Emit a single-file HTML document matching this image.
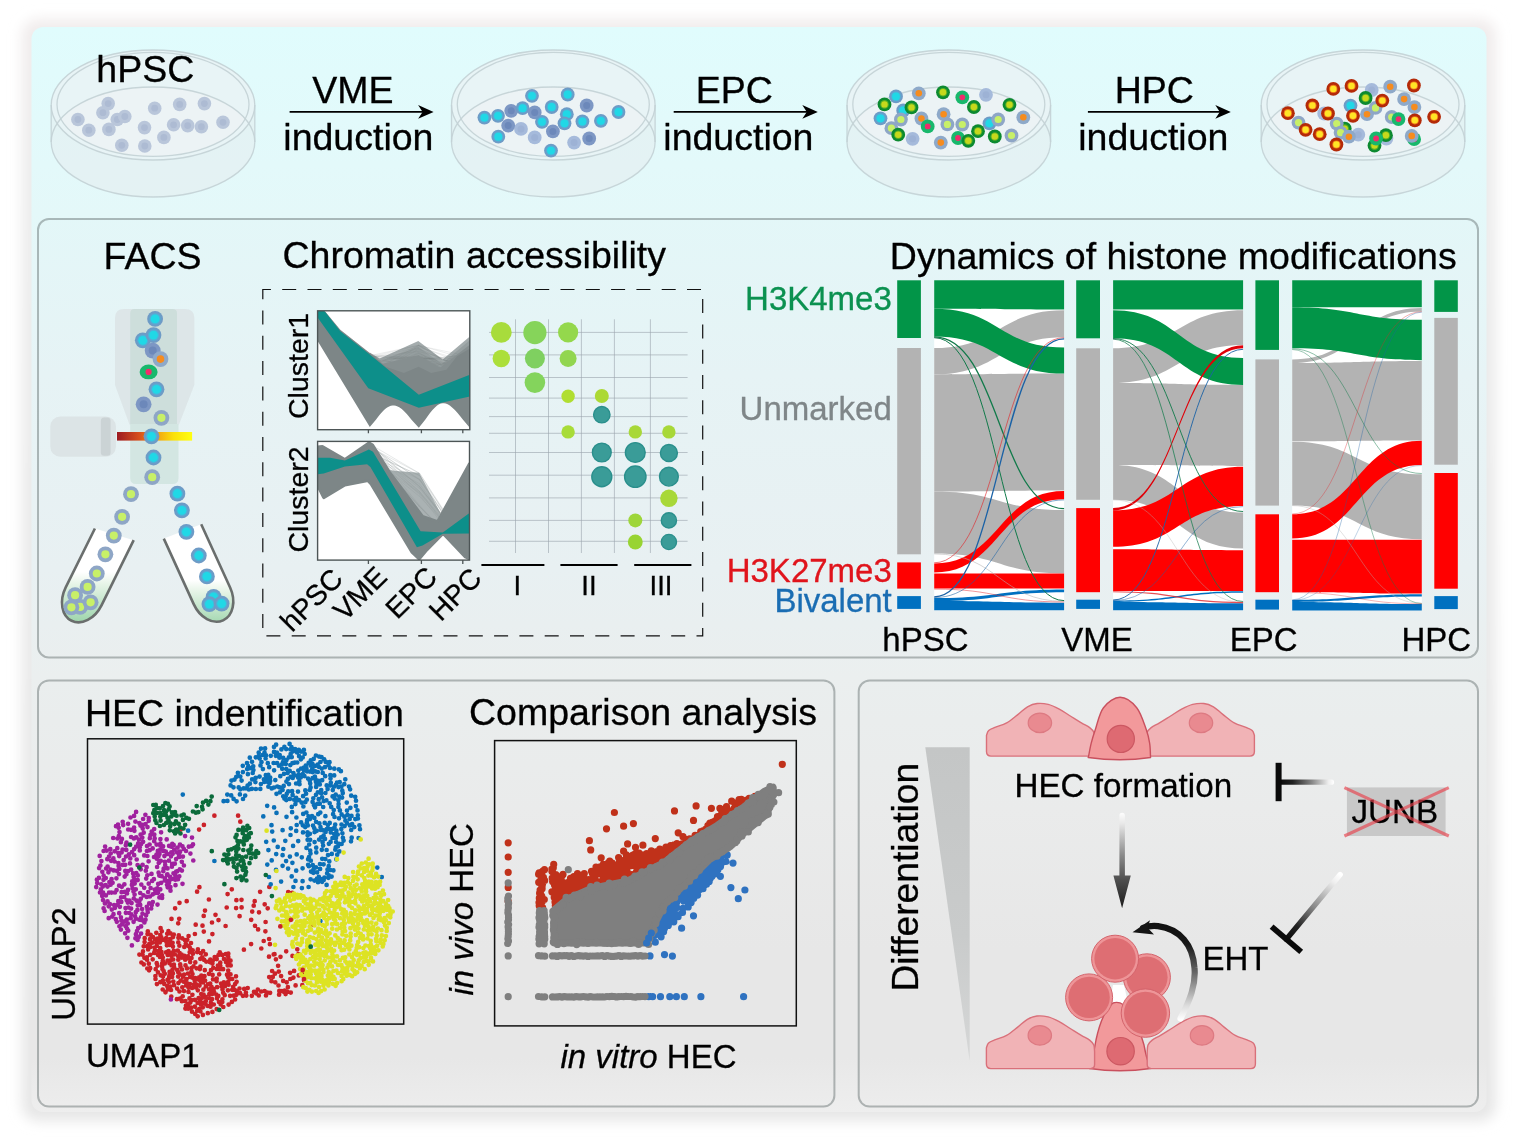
<!DOCTYPE html>
<html lang="en"><head><meta charset="utf-8"><title>Graphical abstract</title>
<style>html,body{margin:0;padding:0;background:#fff}body{width:1518px;height:1138px;overflow:hidden}svg{display:block}</style></head>
<body><svg width="1518" height="1138" viewBox="0 0 1518 1138" font-family="'Liberation Sans', sans-serif">
<defs><linearGradient id="bg" x1="0" y1="27" x2="0" y2="1112" gradientUnits="userSpaceOnUse">
<stop offset="0" stop-color="#e0fcfd"/><stop offset="0.17" stop-color="#e4f8f9"/><stop offset="0.32" stop-color="#e7f4f6"/>
<stop offset="0.5" stop-color="#e9f1f3"/><stop offset="0.6" stop-color="#ebefef"/><stop offset="0.72" stop-color="#ebecec"/><stop offset="0.85" stop-color="#e8e8e8"/><stop offset="0.95" stop-color="#e8e8e8"/><stop offset="1" stop-color="#eeeeee"/></linearGradient>
<linearGradient id="gl" x1="0" y1="10" x2="0" y2="1130" gradientUnits="userSpaceOnUse"><stop offset="0" stop-color="#f1ecec"/><stop offset="0.15" stop-color="#ececec"/><stop offset="1" stop-color="#e6e6e6"/></linearGradient>
<filter id="glow" x="-5%" y="-5%" width="110%" height="110%"><feGaussianBlur stdDeviation="6.5"/></filter>
<clipPath id="dc1"><ellipse cx="153" cy="142" rx="101.8" ry="55"/></clipPath>
<clipPath id="dc2"><ellipse cx="553.3" cy="142" rx="101.8" ry="55"/></clipPath>
<clipPath id="dc3"><ellipse cx="948.8" cy="142" rx="101.8" ry="55"/></clipPath>
<clipPath id="dc4"><ellipse cx="1363" cy="142" rx="101.8" ry="55"/></clipPath>
<linearGradient id="laser" x1="0" x2="1"><stop offset="0" stop-color="#9c1a22"/><stop offset="0.3" stop-color="#d8501c"/><stop offset="0.5" stop-color="#f09a14"/><stop offset="0.75" stop-color="#fbe00a"/><stop offset="1" stop-color="#ffff10"/></linearGradient>
<linearGradient id="lq1" x1="0" y1="572" x2="0" y2="621" gradientUnits="userSpaceOnUse"><stop offset="0" stop-color="#ffffff"/><stop offset="0.25" stop-color="#e6f4e7"/><stop offset="1" stop-color="#a0d6ae"/></linearGradient>
<linearGradient id="lq2" x1="0" y1="580" x2="0" y2="625" gradientUnits="userSpaceOnUse"><stop offset="0" stop-color="#ffffff"/><stop offset="0.25" stop-color="#e6f4e7"/><stop offset="1" stop-color="#a0d6ae"/></linearGradient>
<clipPath id="c1"><rect x="317.6" y="310.8" width="152.2" height="118.9"/></clipPath>
<clipPath id="c2"><rect x="317.6" y="441.4" width="151.9" height="118.7"/></clipPath>
<linearGradient id="tri" x1="0" y1="747" x2="0" y2="1062" gradientUnits="userSpaceOnUse"><stop offset="0" stop-color="#c4c6c6"/><stop offset="0.6" stop-color="#c9cbcb"/><stop offset="1" stop-color="#d6d7d7"/></linearGradient>
<linearGradient id="va" x1="0" y1="812" x2="0" y2="908" gradientUnits="userSpaceOnUse"><stop offset="0" stop-color="#ffffff"/><stop offset="0.12" stop-color="#e8e8e8"/><stop offset="0.45" stop-color="#8a8a8a"/><stop offset="0.7" stop-color="#505050"/><stop offset="1" stop-color="#1c1c1c"/></linearGradient>
<linearGradient id="t1" x1="1279" y1="0" x2="1334" y2="0" gradientUnits="userSpaceOnUse"><stop offset="0" stop-color="#0a0a0a"/><stop offset="0.25" stop-color="#222"/><stop offset="0.6" stop-color="#888"/><stop offset="0.9" stop-color="#eee"/><stop offset="1" stop-color="#fff"/></linearGradient>
<linearGradient id="t2" x1="1340.2" y1="874.5" x2="1286.4" y2="939.3" gradientUnits="userSpaceOnUse"><stop offset="0" stop-color="#fff"/><stop offset="0.12" stop-color="#eee"/><stop offset="0.5" stop-color="#888"/><stop offset="0.8" stop-color="#222"/><stop offset="1" stop-color="#0a0a0a"/></linearGradient>
<linearGradient id="ca" x1="0" y1="1020" x2="0" y2="925" gradientUnits="userSpaceOnUse"><stop offset="0" stop-color="#fff"/><stop offset="0.15" stop-color="#ddd"/><stop offset="0.5" stop-color="#666"/><stop offset="0.8" stop-color="#181818"/><stop offset="1" stop-color="#111"/></linearGradient></defs>
<rect width="1518" height="1138" fill="#fff"/>
<rect x="22" y="19" width="1474" height="1102" rx="16" fill="url(#gl)" filter="url(#glow)"/>
<rect x="31.5" y="27" width="1455" height="1085" rx="12" fill="url(#bg)"/>
<rect x="38" y="219" width="1440" height="438.5" rx="11" fill="#000" fill-opacity="0.004" stroke="#586464" stroke-opacity="0.43" stroke-width="2"/>
<rect x="38" y="680.4" width="796.4" height="426.2" rx="11" fill="#000" fill-opacity="0.004" stroke="#586464" stroke-opacity="0.43" stroke-width="2"/>
<rect x="858.7" y="680.6" width="619.3" height="426" rx="11" fill="#000" fill-opacity="0.004" stroke="#586464" stroke-opacity="0.43" stroke-width="2"/>
<g>
<path d="M51.2 105 A101.8 55 0 0 1 254.8 105 L254.8 142 A101.8 55 0 0 1 51.2 142 Z" fill="#e4eff1" fill-opacity="0.7"/>
<ellipse cx="153" cy="105" rx="101.8" ry="55" fill="#e8f4f6" fill-opacity="0.8"/>
<ellipse cx="153" cy="104.4" rx="96" ry="52" fill="#ecf3f5" clip-path="url(#dc1)"/>
<ellipse cx="153" cy="142" rx="101.8" ry="55" fill="none" stroke="#c3d2d5" stroke-width="1.3" stroke-opacity="0.9"/>
<ellipse cx="153" cy="105" rx="101.8" ry="55" fill="none" stroke="#c3d2d5" stroke-width="1.3" stroke-opacity="0.9"/>
<ellipse cx="153" cy="104.4" rx="96" ry="52" fill="none" stroke="#c3d2d5" stroke-width="1.3" stroke-opacity="0.9"/>
<path d="M51.2 105V142 M254.8 105V142" fill="none" stroke="#c3d2d5" stroke-width="1.3" stroke-opacity="0.9"/>
</g>
<g>
<path d="M451.5 105 A101.8 55 0 0 1 655.1 105 L655.1 142 A101.8 55 0 0 1 451.5 142 Z" fill="#e4eff1" fill-opacity="0.7"/>
<ellipse cx="553.3" cy="105" rx="101.8" ry="55" fill="#e8f4f6" fill-opacity="0.8"/>
<ellipse cx="553.3" cy="104.4" rx="96" ry="52" fill="#ecf3f5" clip-path="url(#dc2)"/>
<ellipse cx="553.3" cy="142" rx="101.8" ry="55" fill="none" stroke="#c3d2d5" stroke-width="1.3" stroke-opacity="0.9"/>
<ellipse cx="553.3" cy="105" rx="101.8" ry="55" fill="none" stroke="#c3d2d5" stroke-width="1.3" stroke-opacity="0.9"/>
<ellipse cx="553.3" cy="104.4" rx="96" ry="52" fill="none" stroke="#c3d2d5" stroke-width="1.3" stroke-opacity="0.9"/>
<path d="M451.5 105V142 M655.1 105V142" fill="none" stroke="#c3d2d5" stroke-width="1.3" stroke-opacity="0.9"/>
</g>
<g>
<path d="M847 105 A101.8 55 0 0 1 1050.6 105 L1050.6 142 A101.8 55 0 0 1 847 142 Z" fill="#e4eff1" fill-opacity="0.7"/>
<ellipse cx="948.8" cy="105" rx="101.8" ry="55" fill="#e8f4f6" fill-opacity="0.8"/>
<ellipse cx="948.8" cy="104.4" rx="96" ry="52" fill="#ecf3f5" clip-path="url(#dc3)"/>
<ellipse cx="948.8" cy="142" rx="101.8" ry="55" fill="none" stroke="#c3d2d5" stroke-width="1.3" stroke-opacity="0.9"/>
<ellipse cx="948.8" cy="105" rx="101.8" ry="55" fill="none" stroke="#c3d2d5" stroke-width="1.3" stroke-opacity="0.9"/>
<ellipse cx="948.8" cy="104.4" rx="96" ry="52" fill="none" stroke="#c3d2d5" stroke-width="1.3" stroke-opacity="0.9"/>
<path d="M847 105V142 M1050.6 105V142" fill="none" stroke="#c3d2d5" stroke-width="1.3" stroke-opacity="0.9"/>
</g>
<g>
<path d="M1261.2 105 A101.8 55 0 0 1 1464.8 105 L1464.8 142 A101.8 55 0 0 1 1261.2 142 Z" fill="#e4eff1" fill-opacity="0.7"/>
<ellipse cx="1363" cy="105" rx="101.8" ry="55" fill="#e8f4f6" fill-opacity="0.8"/>
<ellipse cx="1363" cy="104.4" rx="96" ry="52" fill="#ecf3f5" clip-path="url(#dc4)"/>
<ellipse cx="1363" cy="142" rx="101.8" ry="55" fill="none" stroke="#c3d2d5" stroke-width="1.3" stroke-opacity="0.9"/>
<ellipse cx="1363" cy="105" rx="101.8" ry="55" fill="none" stroke="#c3d2d5" stroke-width="1.3" stroke-opacity="0.9"/>
<ellipse cx="1363" cy="104.4" rx="96" ry="52" fill="none" stroke="#c3d2d5" stroke-width="1.3" stroke-opacity="0.9"/>
<path d="M1261.2 105V142 M1464.8 105V142" fill="none" stroke="#c3d2d5" stroke-width="1.3" stroke-opacity="0.9"/>
</g>
<circle cx="77.9" cy="119.5" r="6.8" fill="#b9c6da"/>
<circle cx="77.9" cy="119.5" r="3.4" fill="#adbbd3"/>
<circle cx="88.8" cy="130.2" r="6.8" fill="#b9c6da"/>
<circle cx="88.8" cy="130.2" r="3.4" fill="#adbbd3"/>
<circle cx="108.2" cy="103.6" r="6.8" fill="#b9c6da"/>
<circle cx="108.2" cy="103.6" r="3.4" fill="#adbbd3"/>
<circle cx="102.9" cy="112.7" r="6.8" fill="#b9c6da"/>
<circle cx="102.9" cy="112.7" r="3.4" fill="#adbbd3"/>
<circle cx="108.9" cy="129.4" r="6.8" fill="#b9c6da"/>
<circle cx="108.9" cy="129.4" r="3.4" fill="#adbbd3"/>
<circle cx="117.3" cy="119.5" r="6.8" fill="#b9c6da"/>
<circle cx="117.3" cy="119.5" r="3.4" fill="#adbbd3"/>
<circle cx="124.8" cy="116.5" r="6.8" fill="#b9c6da"/>
<circle cx="124.8" cy="116.5" r="3.4" fill="#adbbd3"/>
<circle cx="121.8" cy="145.3" r="6.8" fill="#b9c6da"/>
<circle cx="121.8" cy="145.3" r="3.4" fill="#adbbd3"/>
<circle cx="144.5" cy="127.6" r="6.8" fill="#b9c6da"/>
<circle cx="144.5" cy="127.6" r="3.4" fill="#adbbd3"/>
<circle cx="144.8" cy="146" r="6.8" fill="#b9c6da"/>
<circle cx="144.8" cy="146" r="3.4" fill="#adbbd3"/>
<circle cx="154.7" cy="108.2" r="6.8" fill="#b9c6da"/>
<circle cx="154.7" cy="108.2" r="3.4" fill="#adbbd3"/>
<circle cx="163.9" cy="137.4" r="6.8" fill="#b9c6da"/>
<circle cx="163.9" cy="137.4" r="3.4" fill="#adbbd3"/>
<circle cx="173.6" cy="124.8" r="6.8" fill="#b9c6da"/>
<circle cx="173.6" cy="124.8" r="3.4" fill="#adbbd3"/>
<circle cx="179.7" cy="104.4" r="6.8" fill="#b9c6da"/>
<circle cx="179.7" cy="104.4" r="3.4" fill="#adbbd3"/>
<circle cx="187.7" cy="125.6" r="6.8" fill="#b9c6da"/>
<circle cx="187.7" cy="125.6" r="3.4" fill="#adbbd3"/>
<circle cx="201.4" cy="126.7" r="6.8" fill="#b9c6da"/>
<circle cx="201.4" cy="126.7" r="3.4" fill="#adbbd3"/>
<circle cx="204.4" cy="103.6" r="6.8" fill="#b9c6da"/>
<circle cx="204.4" cy="103.6" r="3.4" fill="#adbbd3"/>
<circle cx="223" cy="122.3" r="6.8" fill="#b9c6da"/>
<circle cx="223" cy="122.3" r="3.4" fill="#adbbd3"/>
<circle cx="521" cy="128.9" r="6.9" fill="#a5badb"/>
<circle cx="521" cy="128.9" r="3.5" fill="#9db2d5"/>
<circle cx="534.7" cy="137.4" r="6.9" fill="#a5badb"/>
<circle cx="534.7" cy="137.4" r="3.5" fill="#9db2d5"/>
<circle cx="574.1" cy="142.6" r="6.9" fill="#a5badb"/>
<circle cx="574.1" cy="142.6" r="3.5" fill="#9db2d5"/>
<circle cx="511.2" cy="110.8" r="6.9" fill="#7d97c4"/>
<circle cx="511.2" cy="110.8" r="3.5" fill="#6c88ba"/>
<circle cx="508.2" cy="125.6" r="6.9" fill="#7d97c4"/>
<circle cx="508.2" cy="125.6" r="3.5" fill="#6c88ba"/>
<circle cx="552.9" cy="131.4" r="6.9" fill="#7d97c4"/>
<circle cx="552.9" cy="131.4" r="3.5" fill="#6c88ba"/>
<circle cx="586.7" cy="105.5" r="6.9" fill="#7d97c4"/>
<circle cx="586.7" cy="105.5" r="3.5" fill="#6c88ba"/>
<circle cx="589.2" cy="138.5" r="6.9" fill="#7d97c4"/>
<circle cx="589.2" cy="138.5" r="3.5" fill="#6c88ba"/>
<circle cx="484.4" cy="117.6" r="6.9" fill="#6e9bc6"/>
<circle cx="484.4" cy="117.6" r="5" fill="#54aed6"/>
<circle cx="484.4" cy="117.6" r="3.9" fill="#20d8e6"/>
<circle cx="498" cy="115.8" r="6.9" fill="#6e9bc6"/>
<circle cx="498" cy="115.8" r="5" fill="#54aed6"/>
<circle cx="498" cy="115.8" r="3.9" fill="#20d8e6"/>
<circle cx="522.6" cy="108.2" r="6.9" fill="#6e9bc6"/>
<circle cx="522.6" cy="108.2" r="5" fill="#54aed6"/>
<circle cx="522.6" cy="108.2" r="3.9" fill="#20d8e6"/>
<circle cx="534.7" cy="112.4" r="6.9" fill="#7d97c4"/>
<circle cx="534.7" cy="112.4" r="3.5" fill="#6c88ba"/>
<circle cx="532" cy="95.8" r="6.9" fill="#6e9bc6"/>
<circle cx="532" cy="95.8" r="5" fill="#54aed6"/>
<circle cx="532" cy="95.8" r="3.9" fill="#20d8e6"/>
<circle cx="551.7" cy="107" r="6.9" fill="#6e9bc6"/>
<circle cx="551.7" cy="107" r="5" fill="#54aed6"/>
<circle cx="551.7" cy="107" r="3.9" fill="#20d8e6"/>
<circle cx="567.7" cy="94.5" r="6.9" fill="#6e9bc6"/>
<circle cx="567.7" cy="94.5" r="5" fill="#54aed6"/>
<circle cx="567.7" cy="94.5" r="3.9" fill="#20d8e6"/>
<circle cx="566.8" cy="114.2" r="6.9" fill="#6e9bc6"/>
<circle cx="566.8" cy="114.2" r="5" fill="#54aed6"/>
<circle cx="566.8" cy="114.2" r="3.9" fill="#20d8e6"/>
<circle cx="542" cy="121.8" r="6.9" fill="#6e9bc6"/>
<circle cx="542" cy="121.8" r="5" fill="#54aed6"/>
<circle cx="542" cy="121.8" r="3.9" fill="#20d8e6"/>
<circle cx="564.5" cy="123.3" r="6.9" fill="#6e9bc6"/>
<circle cx="564.5" cy="123.3" r="5" fill="#54aed6"/>
<circle cx="564.5" cy="123.3" r="3.9" fill="#20d8e6"/>
<circle cx="582.4" cy="121.5" r="6.9" fill="#6e9bc6"/>
<circle cx="582.4" cy="121.5" r="5" fill="#54aed6"/>
<circle cx="582.4" cy="121.5" r="3.9" fill="#20d8e6"/>
<circle cx="600.9" cy="120.8" r="6.9" fill="#6e9bc6"/>
<circle cx="600.9" cy="120.8" r="5" fill="#54aed6"/>
<circle cx="600.9" cy="120.8" r="3.9" fill="#20d8e6"/>
<circle cx="618.5" cy="112" r="6.9" fill="#6e9bc6"/>
<circle cx="618.5" cy="112" r="5" fill="#54aed6"/>
<circle cx="618.5" cy="112" r="3.9" fill="#20d8e6"/>
<circle cx="498.3" cy="136.7" r="6.9" fill="#6e9bc6"/>
<circle cx="498.3" cy="136.7" r="5" fill="#54aed6"/>
<circle cx="498.3" cy="136.7" r="3.9" fill="#20d8e6"/>
<circle cx="551" cy="150.6" r="6.9" fill="#6e9bc6"/>
<circle cx="551" cy="150.6" r="5" fill="#54aed6"/>
<circle cx="551" cy="150.6" r="3.9" fill="#20d8e6"/>
<circle cx="986" cy="94.8" r="6.9" fill="#a5badb"/>
<circle cx="986" cy="94.8" r="3.5" fill="#9db2d5"/>
<circle cx="912.6" cy="138.8" r="6.9" fill="#a5badb"/>
<circle cx="912.6" cy="138.8" r="3.5" fill="#9db2d5"/>
<circle cx="896" cy="96.4" r="6.9" fill="#6e9bc6"/>
<circle cx="896" cy="96.4" r="5" fill="#54aed6"/>
<circle cx="896" cy="96.4" r="3.9" fill="#20d8e6"/>
<circle cx="880.5" cy="118.3" r="6.9" fill="#6e9bc6"/>
<circle cx="880.5" cy="118.3" r="5" fill="#54aed6"/>
<circle cx="880.5" cy="118.3" r="3.9" fill="#20d8e6"/>
<circle cx="903.2" cy="110.5" r="6.9" fill="#6e9bc6"/>
<circle cx="903.2" cy="110.5" r="5" fill="#54aed6"/>
<circle cx="903.2" cy="110.5" r="3.9" fill="#20d8e6"/>
<circle cx="989.5" cy="123.3" r="6.9" fill="#6e9bc6"/>
<circle cx="989.5" cy="123.3" r="5" fill="#54aed6"/>
<circle cx="989.5" cy="123.3" r="3.9" fill="#20d8e6"/>
<circle cx="918.8" cy="93.3" r="6.9" fill="#8ea9c9"/>
<circle cx="918.8" cy="93.3" r="3.3" fill="#f68c1e"/>
<circle cx="921.4" cy="118.5" r="6.9" fill="#8ea9c9"/>
<circle cx="921.4" cy="118.5" r="3.3" fill="#f68c1e"/>
<circle cx="943.6" cy="114.2" r="6.9" fill="#8ea9c9"/>
<circle cx="943.6" cy="114.2" r="3.3" fill="#f68c1e"/>
<circle cx="940.8" cy="142.6" r="6.9" fill="#8ea9c9"/>
<circle cx="940.8" cy="142.6" r="3.3" fill="#f68c1e"/>
<circle cx="1023.3" cy="117.3" r="6.9" fill="#8ea9c9"/>
<circle cx="1023.3" cy="117.3" r="3.3" fill="#f68c1e"/>
<circle cx="900.9" cy="119.5" r="6.9" fill="#8ea6c6"/>
<circle cx="900.9" cy="119.5" r="3.6" fill="#c8f068"/>
<circle cx="891.4" cy="128.2" r="6.9" fill="#8ea6c6"/>
<circle cx="891.4" cy="128.2" r="3.6" fill="#c8f068"/>
<circle cx="947.4" cy="124.4" r="6.9" fill="#8ea6c6"/>
<circle cx="947.4" cy="124.4" r="3.6" fill="#c8f068"/>
<circle cx="962.3" cy="124.5" r="6.9" fill="#8ea6c6"/>
<circle cx="962.3" cy="124.5" r="3.6" fill="#c8f068"/>
<circle cx="998.2" cy="119.5" r="6.9" fill="#8ea6c6"/>
<circle cx="998.2" cy="119.5" r="3.6" fill="#c8f068"/>
<circle cx="1011.5" cy="135.5" r="6.9" fill="#8ea6c6"/>
<circle cx="1011.5" cy="135.5" r="3.6" fill="#c8f068"/>
<circle cx="962.3" cy="97.3" r="6.9" fill="#18b86c"/>
<circle cx="962.3" cy="97.3" r="2.9" fill="#f02c6c"/>
<circle cx="927.7" cy="126.4" r="6.9" fill="#18b86c"/>
<circle cx="927.7" cy="126.4" r="2.9" fill="#f02c6c"/>
<circle cx="958" cy="138" r="6.9" fill="#18b86c"/>
<circle cx="958" cy="138" r="2.9" fill="#f02c6c"/>
<circle cx="884.5" cy="104.4" r="6.9" fill="#0c8a30"/>
<circle cx="884.5" cy="104.4" r="4.3" fill="#58b024"/>
<circle cx="884.5" cy="104.4" r="3.2" fill="#c6d81c"/>
<circle cx="911.5" cy="107.4" r="6.9" fill="#0c8a30"/>
<circle cx="911.5" cy="107.4" r="4.3" fill="#58b024"/>
<circle cx="911.5" cy="107.4" r="3.2" fill="#c6d81c"/>
<circle cx="943" cy="92.3" r="6.9" fill="#0c8a30"/>
<circle cx="943" cy="92.3" r="4.3" fill="#58b024"/>
<circle cx="943" cy="92.3" r="3.2" fill="#c6d81c"/>
<circle cx="973.9" cy="107" r="6.9" fill="#0c8a30"/>
<circle cx="973.9" cy="107" r="4.3" fill="#58b024"/>
<circle cx="973.9" cy="107" r="3.2" fill="#c6d81c"/>
<circle cx="1009.5" cy="104.8" r="6.9" fill="#0c8a30"/>
<circle cx="1009.5" cy="104.8" r="4.3" fill="#58b024"/>
<circle cx="1009.5" cy="104.8" r="3.2" fill="#c6d81c"/>
<circle cx="898.2" cy="134.7" r="6.9" fill="#0c8a30"/>
<circle cx="898.2" cy="134.7" r="4.3" fill="#58b024"/>
<circle cx="898.2" cy="134.7" r="3.2" fill="#c6d81c"/>
<circle cx="978" cy="131.2" r="6.9" fill="#0c8a30"/>
<circle cx="978" cy="131.2" r="4.3" fill="#58b024"/>
<circle cx="978" cy="131.2" r="3.2" fill="#c6d81c"/>
<circle cx="968.3" cy="140.8" r="6.9" fill="#0c8a30"/>
<circle cx="968.3" cy="140.8" r="4.3" fill="#58b024"/>
<circle cx="968.3" cy="140.8" r="3.2" fill="#c6d81c"/>
<circle cx="994.8" cy="136.5" r="6.9" fill="#0c8a30"/>
<circle cx="994.8" cy="136.5" r="4.3" fill="#58b024"/>
<circle cx="994.8" cy="136.5" r="3.2" fill="#c6d81c"/>
<circle cx="1371.7" cy="90" r="6.9" fill="#a5badb"/>
<circle cx="1371.7" cy="90" r="3.5" fill="#9db2d5"/>
<circle cx="1358.3" cy="134.7" r="6.9" fill="#a5badb"/>
<circle cx="1358.3" cy="134.7" r="3.5" fill="#9db2d5"/>
<circle cx="1324.2" cy="113.5" r="6.9" fill="#a5badb"/>
<circle cx="1324.2" cy="113.5" r="3.5" fill="#9db2d5"/>
<circle cx="1386.4" cy="138.5" r="6.9" fill="#a5badb"/>
<circle cx="1386.4" cy="138.5" r="3.5" fill="#9db2d5"/>
<circle cx="1350.5" cy="105.6" r="6.9" fill="#6e9bc6"/>
<circle cx="1350.5" cy="105.6" r="5" fill="#54aed6"/>
<circle cx="1350.5" cy="105.6" r="3.9" fill="#20d8e6"/>
<circle cx="1414.1" cy="139.2" r="6.9" fill="#18b86c"/>
<circle cx="1414.1" cy="139.2" r="2.9" fill="#f02c6c"/>
<circle cx="1344.7" cy="128.6" r="6.9" fill="#0c8a30"/>
<circle cx="1344.7" cy="128.6" r="4.3" fill="#58b024"/>
<circle cx="1344.7" cy="128.6" r="3.2" fill="#c6d81c"/>
<circle cx="1390.2" cy="86.7" r="6.9" fill="#8ea9c9"/>
<circle cx="1390.2" cy="86.7" r="3.3" fill="#f68c1e"/>
<circle cx="1404.1" cy="99.1" r="6.9" fill="#8ea9c9"/>
<circle cx="1404.1" cy="99.1" r="3.3" fill="#f68c1e"/>
<circle cx="1414.4" cy="107.1" r="6.9" fill="#8ea9c9"/>
<circle cx="1414.4" cy="107.1" r="3.3" fill="#f68c1e"/>
<circle cx="1367" cy="114.2" r="6.9" fill="#8ea9c9"/>
<circle cx="1367" cy="114.2" r="3.3" fill="#f68c1e"/>
<circle cx="1411.7" cy="135.9" r="6.9" fill="#8ea9c9"/>
<circle cx="1411.7" cy="135.9" r="3.3" fill="#f68c1e"/>
<circle cx="1298.5" cy="122.6" r="6.9" fill="#8ea6c6"/>
<circle cx="1298.5" cy="122.6" r="3.6" fill="#c8f068"/>
<circle cx="1336.7" cy="123.6" r="6.9" fill="#8ea6c6"/>
<circle cx="1336.7" cy="123.6" r="3.6" fill="#c8f068"/>
<circle cx="1340.6" cy="132.7" r="6.9" fill="#8ea6c6"/>
<circle cx="1340.6" cy="132.7" r="3.6" fill="#c8f068"/>
<circle cx="1348.9" cy="136.7" r="6.9" fill="#8ea9c9"/>
<circle cx="1348.9" cy="136.7" r="3.3" fill="#f68c1e"/>
<circle cx="1375.5" cy="107.9" r="6.9" fill="#8ea6c6"/>
<circle cx="1375.5" cy="107.9" r="3.6" fill="#c8f068"/>
<circle cx="1391.7" cy="117" r="6.9" fill="#8ea6c6"/>
<circle cx="1391.7" cy="117" r="3.6" fill="#c8f068"/>
<circle cx="1365.6" cy="98" r="6.9" fill="#0c8a30"/>
<circle cx="1365.6" cy="98" r="4.3" fill="#58b024"/>
<circle cx="1365.6" cy="98" r="3.2" fill="#c6d81c"/>
<circle cx="1374.5" cy="145.6" r="6.9" fill="#0c8a30"/>
<circle cx="1374.5" cy="145.6" r="4.3" fill="#58b024"/>
<circle cx="1374.5" cy="145.6" r="3.2" fill="#c6d81c"/>
<circle cx="1385.9" cy="135.2" r="6.9" fill="#0c8a30"/>
<circle cx="1385.9" cy="135.2" r="4.3" fill="#58b024"/>
<circle cx="1385.9" cy="135.2" r="3.2" fill="#c6d81c"/>
<circle cx="1398.5" cy="119.1" r="6.9" fill="#18b86c"/>
<circle cx="1398.5" cy="119.1" r="2.9" fill="#f02c6c"/>
<circle cx="1376.1" cy="138.5" r="6.9" fill="#18b86c"/>
<circle cx="1376.1" cy="138.5" r="2.9" fill="#f02c6c"/>
<circle cx="1287.9" cy="113.2" r="6.9" fill="#b42a08"/>
<circle cx="1287.9" cy="113.2" r="4.1" fill="#ef7a18"/>
<circle cx="1287.9" cy="113.2" r="3.2" fill="#ffe526"/>
<circle cx="1312.4" cy="105.5" r="6.9" fill="#b42a08"/>
<circle cx="1312.4" cy="105.5" r="4.1" fill="#ef7a18"/>
<circle cx="1312.4" cy="105.5" r="3.2" fill="#ffe526"/>
<circle cx="1333.3" cy="88.9" r="6.9" fill="#b42a08"/>
<circle cx="1333.3" cy="88.9" r="4.1" fill="#ef7a18"/>
<circle cx="1333.3" cy="88.9" r="3.2" fill="#ffe526"/>
<circle cx="1351.5" cy="85.9" r="6.9" fill="#b42a08"/>
<circle cx="1351.5" cy="85.9" r="4.1" fill="#ef7a18"/>
<circle cx="1351.5" cy="85.9" r="3.2" fill="#ffe526"/>
<circle cx="1328" cy="113.5" r="6.9" fill="#b42a08"/>
<circle cx="1328" cy="113.5" r="4.1" fill="#ef7a18"/>
<circle cx="1328" cy="113.5" r="3.2" fill="#ffe526"/>
<circle cx="1353" cy="115.8" r="6.9" fill="#b42a08"/>
<circle cx="1353" cy="115.8" r="4.1" fill="#ef7a18"/>
<circle cx="1353" cy="115.8" r="3.2" fill="#ffe526"/>
<circle cx="1382.3" cy="100.6" r="6.9" fill="#b42a08"/>
<circle cx="1382.3" cy="100.6" r="4.1" fill="#ef7a18"/>
<circle cx="1382.3" cy="100.6" r="3.2" fill="#ffe526"/>
<circle cx="1413.9" cy="85.5" r="6.9" fill="#b42a08"/>
<circle cx="1413.9" cy="85.5" r="4.1" fill="#ef7a18"/>
<circle cx="1413.9" cy="85.5" r="3.2" fill="#ffe526"/>
<circle cx="1414.8" cy="120.3" r="6.9" fill="#b42a08"/>
<circle cx="1414.8" cy="120.3" r="4.1" fill="#ef7a18"/>
<circle cx="1414.8" cy="120.3" r="3.2" fill="#ffe526"/>
<circle cx="1434.1" cy="116.8" r="6.9" fill="#b42a08"/>
<circle cx="1434.1" cy="116.8" r="4.1" fill="#ef7a18"/>
<circle cx="1434.1" cy="116.8" r="3.2" fill="#ffe526"/>
<circle cx="1305.6" cy="129.8" r="6.9" fill="#b42a08"/>
<circle cx="1305.6" cy="129.8" r="4.1" fill="#ef7a18"/>
<circle cx="1305.6" cy="129.8" r="3.2" fill="#ffe526"/>
<circle cx="1319.7" cy="134.2" r="6.9" fill="#b42a08"/>
<circle cx="1319.7" cy="134.2" r="4.1" fill="#ef7a18"/>
<circle cx="1319.7" cy="134.2" r="3.2" fill="#ffe526"/>
<circle cx="1336.4" cy="144.5" r="6.9" fill="#b42a08"/>
<circle cx="1336.4" cy="144.5" r="4.1" fill="#ef7a18"/>
<circle cx="1336.4" cy="144.5" r="3.2" fill="#ffe526"/>
<text x="96.3" y="82.4" font-size="37.5" fill="#000" stroke="#000" stroke-width="0.3" text-anchor="start" >hPSC</text>
<path d="M289.6 111.9H425.6" stroke="#000" stroke-width="1.8"/>
<path d="M433.6 111.9l-15.5 -6.8l4.5 6.8l-4.5 6.8z" fill="#000"/>
<path d="M673.7 111.9H809.8" stroke="#000" stroke-width="1.8"/>
<path d="M817.8 111.9l-15.5 -6.8l4.5 6.8l-4.5 6.8z" fill="#000"/>
<path d="M1087.9 111.9H1222.8" stroke="#000" stroke-width="1.8"/>
<path d="M1230.8 111.9l-15.5 -6.8l4.5 6.8l-4.5 6.8z" fill="#000"/>
<text x="353" y="103.4" font-size="37.5" fill="#000" stroke="#000" stroke-width="0.3" text-anchor="middle" >VME</text>
<text x="358.4" y="149.6" font-size="37.5" fill="#000" stroke="#000" stroke-width="0.3" text-anchor="middle" >induction</text>
<text x="734.2" y="103.4" font-size="37.5" fill="#000" stroke="#000" stroke-width="0.3" text-anchor="middle" >EPC</text>
<text x="738.4" y="149.6" font-size="37.5" fill="#000" stroke="#000" stroke-width="0.3" text-anchor="middle" >induction</text>
<text x="1154.3" y="103.4" font-size="37.5" fill="#000" stroke="#000" stroke-width="0.3" text-anchor="middle" >HPC</text>
<text x="1153.3" y="149.6" font-size="37.5" fill="#000" stroke="#000" stroke-width="0.3" text-anchor="middle" >induction</text>
<text x="103.6" y="268.5" font-size="37.5" fill="#000" stroke="#000" stroke-width="0.3" text-anchor="start" >FACS</text>
<path d="M115 318 Q115 309 124 309 H185 Q194.3 309 194.3 318 V385 L179 424.5 H129.5 L115 385 Z" fill="#dbe4e7" fill-opacity="0.9"/>
<path d="M130.2 313 Q130.2 309 135 309 H172 Q177 309 177 313 V424.5 H130.2 Z" fill="#cddedb"/>
<path d="M130.2 424 H178.5 V478 Q178.5 484 172.5 484 H136.2 Q130.2 484 130.2 478 Z" fill="#d3e6e2"/>
<rect x="50.3" y="416.5" width="65.6" height="40.3" rx="10" fill="#dce4e6"/>
<rect x="100.8" y="417.5" width="9.8" height="38.3" rx="3.5" fill="#cbd3d5"/>
<rect x="117" y="432" width="75.1" height="8.6" fill="url(#laser)"/>
<path d="M94.9 528.5L65.6 587.7A20 27 26.3 0 0 101.5 605.4L133.7 540.2Z" fill="url(#lq1)"/>
<path d="M94.9 528.5L65.6 587.7A20 27 26.3 0 0 101.5 605.4L133.7 540.2" fill="none" stroke="#6a6e6d" stroke-width="2.6"/>
<path d="M163.8 538.6L193.7 604.1A20 27 -24.5 0 0 230.1 587.5L201.2 524.3Z" fill="url(#lq2)"/>
<path d="M163.8 538.6L193.7 604.1A20 27 -24.5 0 0 230.1 587.5L201.2 524.3" fill="none" stroke="#6a6e6d" stroke-width="2.6"/>
<circle cx="155.1" cy="318.9" r="7.9" fill="#6e9bc6"/>
<circle cx="155.1" cy="318.9" r="5.7" fill="#54aed6"/>
<circle cx="155.1" cy="318.9" r="4.4" fill="#20d8e6"/>
<circle cx="142.8" cy="340.3" r="7.9" fill="#6e9bc6"/>
<circle cx="142.8" cy="340.3" r="5.7" fill="#54aed6"/>
<circle cx="142.8" cy="340.3" r="4.4" fill="#20d8e6"/>
<circle cx="153.5" cy="335.1" r="7.9" fill="#6e9bc6"/>
<circle cx="153.5" cy="335.1" r="5.7" fill="#54aed6"/>
<circle cx="153.5" cy="335.1" r="4.4" fill="#20d8e6"/>
<circle cx="152.7" cy="350.6" r="7.9" fill="#7d97c4"/>
<circle cx="152.7" cy="350.6" r="4" fill="#6c88ba"/>
<circle cx="160.5" cy="359.1" r="7.9" fill="#8ea9c9"/>
<circle cx="160.5" cy="359.1" r="3.8" fill="#f68c1e"/>
<circle cx="156.5" cy="389.3" r="7.9" fill="#6e9bc6"/>
<circle cx="156.5" cy="389.3" r="5.7" fill="#54aed6"/>
<circle cx="156.5" cy="389.3" r="4.4" fill="#20d8e6"/>
<circle cx="143.6" cy="404.3" r="7.9" fill="#7d97c4"/>
<circle cx="143.6" cy="404.3" r="4" fill="#6c88ba"/>
<circle cx="161.4" cy="417.8" r="7.9" fill="#8ea6c6"/>
<circle cx="161.4" cy="417.8" r="4.1" fill="#c8f068"/>
<circle cx="151.5" cy="436.3" r="7.9" fill="#6e9bc6"/>
<circle cx="151.5" cy="436.3" r="5.7" fill="#54aed6"/>
<circle cx="151.5" cy="436.3" r="4.4" fill="#20d8e6"/>
<circle cx="153.5" cy="457.5" r="7.9" fill="#6e9bc6"/>
<circle cx="153.5" cy="457.5" r="5.7" fill="#54aed6"/>
<circle cx="153.5" cy="457.5" r="4.4" fill="#20d8e6"/>
<circle cx="152.2" cy="477.2" r="7.9" fill="#8ea6c6"/>
<circle cx="152.2" cy="477.2" r="4.1" fill="#c8f068"/>
<circle cx="131" cy="494.2" r="7.9" fill="#8ea6c6"/>
<circle cx="131" cy="494.2" r="4.1" fill="#c8f068"/>
<circle cx="122.1" cy="516.8" r="7.9" fill="#8ea6c6"/>
<circle cx="122.1" cy="516.8" r="4.1" fill="#c8f068"/>
<circle cx="113.8" cy="535.6" r="7.9" fill="#8ea6c6"/>
<circle cx="113.8" cy="535.6" r="4.1" fill="#c8f068"/>
<circle cx="105.4" cy="554.3" r="7.9" fill="#8ea6c6"/>
<circle cx="105.4" cy="554.3" r="4.1" fill="#c8f068"/>
<circle cx="96.8" cy="573.5" r="7.9" fill="#8ea6c6"/>
<circle cx="96.8" cy="573.5" r="4.1" fill="#c8f068"/>
<circle cx="75.1" cy="595.2" r="7.9" fill="#8ea6c6"/>
<circle cx="75.1" cy="595.2" r="4.1" fill="#c8f068"/>
<circle cx="87.6" cy="586.9" r="7.9" fill="#8ea6c6"/>
<circle cx="87.6" cy="586.9" r="4.1" fill="#c8f068"/>
<circle cx="80.1" cy="606.9" r="7.9" fill="#8ea6c6"/>
<circle cx="80.1" cy="606.9" r="4.1" fill="#c8f068"/>
<circle cx="71.4" cy="607.3" r="7.9" fill="#8ea6c6"/>
<circle cx="71.4" cy="607.3" r="4.1" fill="#c8f068"/>
<circle cx="90.6" cy="602.3" r="7.9" fill="#8ea6c6"/>
<circle cx="90.6" cy="602.3" r="4.1" fill="#c8f068"/>
<circle cx="177.4" cy="493.7" r="7.9" fill="#6e9bc6"/>
<circle cx="177.4" cy="493.7" r="5.7" fill="#54aed6"/>
<circle cx="177.4" cy="493.7" r="4.4" fill="#20d8e6"/>
<circle cx="181.9" cy="510.4" r="7.9" fill="#6e9bc6"/>
<circle cx="181.9" cy="510.4" r="5.7" fill="#54aed6"/>
<circle cx="181.9" cy="510.4" r="4.4" fill="#20d8e6"/>
<circle cx="186.4" cy="531.8" r="7.9" fill="#6e9bc6"/>
<circle cx="186.4" cy="531.8" r="5.7" fill="#54aed6"/>
<circle cx="186.4" cy="531.8" r="4.4" fill="#20d8e6"/>
<circle cx="198.8" cy="555.5" r="7.9" fill="#6e9bc6"/>
<circle cx="198.8" cy="555.5" r="5.7" fill="#54aed6"/>
<circle cx="198.8" cy="555.5" r="4.4" fill="#20d8e6"/>
<circle cx="206.9" cy="576.4" r="7.9" fill="#6e9bc6"/>
<circle cx="206.9" cy="576.4" r="5.7" fill="#54aed6"/>
<circle cx="206.9" cy="576.4" r="4.4" fill="#20d8e6"/>
<circle cx="213.6" cy="596.9" r="7.9" fill="#6e9bc6"/>
<circle cx="213.6" cy="596.9" r="5.7" fill="#54aed6"/>
<circle cx="213.6" cy="596.9" r="4.4" fill="#20d8e6"/>
<circle cx="209.4" cy="604.1" r="7.9" fill="#6e9bc6"/>
<circle cx="209.4" cy="604.1" r="5.7" fill="#54aed6"/>
<circle cx="209.4" cy="604.1" r="4.4" fill="#20d8e6"/>
<circle cx="221.6" cy="603.6" r="7.9" fill="#6e9bc6"/>
<circle cx="221.6" cy="603.6" r="5.7" fill="#54aed6"/>
<circle cx="221.6" cy="603.6" r="4.4" fill="#20d8e6"/>
<ellipse cx="148.6" cy="371.9" rx="9" ry="7.4" fill="#18b86c"/>
<circle cx="148.6" cy="371.9" r="3.1" fill="#f02c6c"/>
<text x="282.5" y="268.4" font-size="37.5" fill="#000" stroke="#000" stroke-width="0.3" text-anchor="start" >Chromatin accessibility</text>
<rect x="262.8" y="289.5" width="439.9" height="346.3" fill="none" stroke="#111" stroke-width="1.2" stroke-dasharray="14 11.3" stroke-dashoffset="5.9"/>
<rect x="317.6" y="310.8" width="152.2" height="118.9" fill="#fff"/>
<g clip-path="url(#c1)">
<polygon points="369.8,352.4 379.7,358.5 418.3,341.1 442.6,359.5 469.8,336.5 469.8,391.1 418.3,400.2 369.8,375.9" fill="#a4acad" />
<polygon points="369.8,352.9 381.2,360.8 418.3,347.1 441.8,363.8 469.8,340.3 469.8,391.1 418.3,400.2 369.8,375.9" fill="#959e9f" />
<path d="M369.8 363L418.6 348.2L469.8 372.2" fill="none" stroke="#6f797a" stroke-opacity="0.16" stroke-width="0.8"/>
<path d="M369.8 356L418.6 360.8L469.8 364.2" fill="none" stroke="#6f797a" stroke-opacity="0.16" stroke-width="0.8"/>
<path d="M369.8 355.6L418.6 359.9L469.8 355" fill="none" stroke="#6f797a" stroke-opacity="0.16" stroke-width="0.8"/>
<path d="M369.8 366.1L418.6 345.6L469.8 356.5" fill="none" stroke="#6f797a" stroke-opacity="0.16" stroke-width="0.8"/>
<path d="M369.8 365.8L418.6 370.3L469.8 357.4" fill="none" stroke="#6f797a" stroke-opacity="0.16" stroke-width="0.8"/>
<path d="M369.8 360.2L418.6 363.8L469.8 380.5" fill="none" stroke="#6f797a" stroke-opacity="0.16" stroke-width="0.8"/>
<path d="M369.8 370.1L418.6 356.3L469.8 381.3" fill="none" stroke="#6f797a" stroke-opacity="0.16" stroke-width="0.8"/>
<path d="M369.8 355.2L418.6 371.3L469.8 362.1" fill="none" stroke="#6f797a" stroke-opacity="0.16" stroke-width="0.8"/>
<path d="M369.8 358L418.6 347.2L469.8 362.6" fill="none" stroke="#6f797a" stroke-opacity="0.16" stroke-width="0.8"/>
<path d="M369.8 376.8L418.6 349.2L469.8 370.2" fill="none" stroke="#6f797a" stroke-opacity="0.16" stroke-width="0.8"/>
<path d="M369.8 371.8L418.6 355.5L469.8 369.3" fill="none" stroke="#6f797a" stroke-opacity="0.16" stroke-width="0.8"/>
<path d="M369.8 355.7L418.6 345.3L469.8 359.7" fill="none" stroke="#6f797a" stroke-opacity="0.16" stroke-width="0.8"/>
<path d="M369.8 373L418.6 357.3L469.8 362.7" fill="none" stroke="#6f797a" stroke-opacity="0.16" stroke-width="0.8"/>
<path d="M369.8 370.4L418.6 358.1L469.8 362.3" fill="none" stroke="#6f797a" stroke-opacity="0.16" stroke-width="0.8"/>
<path d="M369.8 376.2L418.6 366.1L469.8 360.8" fill="none" stroke="#6f797a" stroke-opacity="0.16" stroke-width="0.8"/>
<path d="M369.8 370L418.6 360.4L469.8 378.5" fill="none" stroke="#6f797a" stroke-opacity="0.16" stroke-width="0.8"/>
<path d="M369.8 374.4L418.6 352.7L469.8 381.4" fill="none" stroke="#6f797a" stroke-opacity="0.16" stroke-width="0.8"/>
<path d="M369.8 357.2L418.6 357L469.8 375.2" fill="none" stroke="#6f797a" stroke-opacity="0.16" stroke-width="0.8"/>
<path d="M369.8 358.2L418.6 359.3L469.8 355" fill="none" stroke="#6f797a" stroke-opacity="0.16" stroke-width="0.8"/>
<path d="M369.8 372.7L418.6 368.2L469.8 370" fill="none" stroke="#6f797a" stroke-opacity="0.16" stroke-width="0.8"/>
<path d="M369.8 378.5L418.6 353.6L469.8 373.4" fill="none" stroke="#6f797a" stroke-opacity="0.16" stroke-width="0.8"/>
<path d="M369.8 370.6L418.6 362.2L469.8 366.7" fill="none" stroke="#6f797a" stroke-opacity="0.16" stroke-width="0.8"/>
<path d="M369.8 377.5L418.6 374.1L469.8 367.2" fill="none" stroke="#6f797a" stroke-opacity="0.16" stroke-width="0.8"/>
<path d="M369.8 372.6L418.6 345.3L469.8 373.6" fill="none" stroke="#6f797a" stroke-opacity="0.16" stroke-width="0.8"/>
<path d="M369.8 372.1L418.6 375.7L469.8 377" fill="none" stroke="#6f797a" stroke-opacity="0.16" stroke-width="0.8"/>
<path d="M369.8 361.9L418.6 355.9L469.8 372.7" fill="none" stroke="#6f797a" stroke-opacity="0.16" stroke-width="0.8"/>
<path d="M369.8 354.6L418.6 358.4L469.8 358.6" fill="none" stroke="#6f797a" stroke-opacity="0.16" stroke-width="0.8"/>
<path d="M369.8 357.2L418.6 345.3L469.8 375.5" fill="none" stroke="#6f797a" stroke-opacity="0.16" stroke-width="0.8"/>
<path d="M369.8 357.6L418.6 351.4L469.8 364.9" fill="none" stroke="#6f797a" stroke-opacity="0.16" stroke-width="0.8"/>
<path d="M369.8 378.4L418.6 346L469.8 366.5" fill="none" stroke="#6f797a" stroke-opacity="0.16" stroke-width="0.8"/>
<polygon points="369.8,353.2 382.7,363.8 418.3,355.5 440.3,367.6 469.8,344.8 469.8,391.1 418.3,400.2 369.8,375.9" fill="#868f90" />
<path d="M317.6 310.8L325.2 311.4L340.3 329.7L369.8 352.9L385.8 366.8L403.9 372.9L418.6 366.8L431.2 372.9L446.4 369.8L457 356.2L469.8 348.6L469.8 427.7L463 419.8Q450.2 402.4 443.3 403.2Q436.5 402.4 425.2 419.8L418.8 427.7L411.5 419.8Q400.2 404.7 393.3 405.5Q386.5 404.7 375.9 419.8L369.8 427.1L317.6 341.1Z" fill="#7d8687" />
<polygon points="317.6,310.8 324.4,311.1 340.3,331.2 369.8,354.4 418.8,394.8 469.8,374.7 469.8,396.4 418.8,407.7 368.3,388.3 317.6,317.6" fill="#0d8f8a" />
</g>
<rect x="317.6" y="310.8" width="152.2" height="118.9" fill="none" stroke="#4d5556" stroke-width="1.4"/>
<rect x="317.6" y="441.4" width="151.9" height="118.7" fill="#fff"/>
<g clip-path="url(#c2)">
<polygon points="387.4,469.7 396.6,471 419.1,472.8 440.5,513.1 437.2,522.3 420.6,516.8" fill="#aab2b3" />
<path d="M369.3 451L419.7 506.8L469.5 557.2" fill="none" stroke="#8d9697" stroke-opacity="0.35" stroke-width="0.6"/>
<path d="M369.3 455.7L419.7 483.9L469.5 552.7" fill="none" stroke="#8d9697" stroke-opacity="0.35" stroke-width="0.6"/>
<path d="M369.3 448.2L419.7 506.8L469.5 558.8" fill="none" stroke="#8d9697" stroke-opacity="0.35" stroke-width="0.6"/>
<path d="M369.3 445.2L419.7 480.1L469.5 550.7" fill="none" stroke="#8d9697" stroke-opacity="0.35" stroke-width="0.6"/>
<path d="M369.3 446.4L419.7 491.7L469.5 554.7" fill="none" stroke="#8d9697" stroke-opacity="0.35" stroke-width="0.6"/>
<path d="M369.3 446.8L419.7 473.5L469.5 552.8" fill="none" stroke="#8d9697" stroke-opacity="0.35" stroke-width="0.6"/>
<path d="M369.3 448.4L419.7 494.8L469.5 558.7" fill="none" stroke="#8d9697" stroke-opacity="0.35" stroke-width="0.6"/>
<path d="M369.3 453.1L419.7 492.9L469.5 555" fill="none" stroke="#8d9697" stroke-opacity="0.35" stroke-width="0.6"/>
<path d="M369.3 452.9L419.7 475.4L469.5 558.1" fill="none" stroke="#8d9697" stroke-opacity="0.35" stroke-width="0.6"/>
<path d="M369.3 454.4L419.7 506.5L469.5 557" fill="none" stroke="#8d9697" stroke-opacity="0.35" stroke-width="0.6"/>
<path d="M369.3 448.7L419.7 488.5L469.5 549.3" fill="none" stroke="#8d9697" stroke-opacity="0.35" stroke-width="0.6"/>
<path d="M369.3 452.3L419.7 475.7L469.5 548.9" fill="none" stroke="#8d9697" stroke-opacity="0.35" stroke-width="0.6"/>
<path d="M369.3 446L419.7 479.5L469.5 551.9" fill="none" stroke="#8d9697" stroke-opacity="0.35" stroke-width="0.6"/>
<path d="M369.3 443.7L419.7 473.4L469.5 549.8" fill="none" stroke="#8d9697" stroke-opacity="0.35" stroke-width="0.6"/>
<path d="M369.3 444.4L419.7 487.1L469.5 548.4" fill="none" stroke="#8d9697" stroke-opacity="0.35" stroke-width="0.6"/>
<path d="M369.3 455.8L419.7 496.6L469.5 549.8" fill="none" stroke="#8d9697" stroke-opacity="0.35" stroke-width="0.6"/>
<path d="M369.3 446.6L419.7 486.5L469.5 552.2" fill="none" stroke="#8d9697" stroke-opacity="0.35" stroke-width="0.6"/>
<path d="M369.3 444.7L419.7 505.5L469.5 559.1" fill="none" stroke="#8d9697" stroke-opacity="0.35" stroke-width="0.6"/>
<path d="M369.3 449.8L419.7 491.7L469.5 549.1" fill="none" stroke="#8d9697" stroke-opacity="0.35" stroke-width="0.6"/>
<path d="M369.3 444.4L419.7 486.3L469.5 551.1" fill="none" stroke="#8d9697" stroke-opacity="0.35" stroke-width="0.6"/>
<path d="M369.3 455.2L419.7 479.5L469.5 548.4" fill="none" stroke="#8d9697" stroke-opacity="0.35" stroke-width="0.6"/>
<path d="M369.3 457L419.7 493.4L469.5 549.8" fill="none" stroke="#8d9697" stroke-opacity="0.35" stroke-width="0.6"/>
<polygon points="317.6,447 322.4,446.6 344.9,459.5 368.9,442.9 372.6,445.1 389.2,471.9 422.5,516.4 437.6,521.7 469.5,463.8 469.5,558.9 465.3,557 443.1,533.4 427.1,549.6 419.1,558.9 411.7,551.8 371.1,483.9 368,480.6 344.9,485 323.7,497.6 317.6,485.4" fill="#7d8687" stroke="#7d8687" stroke-width="3" stroke-linejoin="round" />
<polygon points="317.6,457.7 330.1,457.7 344.9,460.5 368.9,449.4 373,451.8 420.6,531.2 442.8,532.5 469.5,513.1 469.5,533.4 442.8,533.7 422.5,545.4 416.9,547.2 370.4,466.9 367.1,464.2 344.9,466.4 323.7,473.4 317.6,474.3" fill="#0d8f8a" />
</g>
<rect x="317.6" y="441.4" width="151.9" height="118.7" fill="none" stroke="#4d5556" stroke-width="1.4"/>
<path d="M368.4 429.7v3.6M368.4 560.1v4" stroke="#4d5556" stroke-width="1.3"/>
<path d="M421.4 429.7v3.6M421.4 560.1v4" stroke="#4d5556" stroke-width="1.3"/>
<path d="M462.8 429.7v3.6M462.8 560.1v4" stroke="#4d5556" stroke-width="1.3"/>
<text x="307.5" y="419" font-size="28.5" fill="#000" stroke="#000" stroke-width="0.3" text-anchor="start" transform="rotate(-90 307.5 419)" >Cluster1</text>
<text x="307.5" y="552.5" font-size="28.5" fill="#000" stroke="#000" stroke-width="0.3" text-anchor="start" transform="rotate(-90 307.5 552.5)" >Cluster2</text>
<text x="344.6" y="580.5" font-size="28.5" fill="#000" stroke="#000" stroke-width="0.3" text-anchor="end" transform="rotate(-45 344.6 580.5)" >hPSC</text>
<text x="388.6" y="578.5" font-size="28.5" fill="#000" stroke="#000" stroke-width="0.3" text-anchor="end" transform="rotate(-45 388.6 578.5)" >VME</text>
<text x="438.8" y="578.8" font-size="28.5" fill="#000" stroke="#000" stroke-width="0.3" text-anchor="end" transform="rotate(-45 438.8 578.8)" >EPC</text>
<text x="483.3" y="580" font-size="28.5" fill="#000" stroke="#000" stroke-width="0.3" text-anchor="end" transform="rotate(-45 483.3 580)" >HPC</text>
<path d="M489 332.4H687.6" stroke="#9aa3ab" stroke-width="0.75" stroke-opacity="0.8"/>
<path d="M489 354.9H687.6" stroke="#9aa3ab" stroke-width="0.75" stroke-opacity="0.8"/>
<path d="M489 377.5H687.6" stroke="#9aa3ab" stroke-width="0.75" stroke-opacity="0.8"/>
<path d="M489 398.1H687.6" stroke="#9aa3ab" stroke-width="0.75" stroke-opacity="0.8"/>
<path d="M489 416.6H687.6" stroke="#9aa3ab" stroke-width="0.75" stroke-opacity="0.8"/>
<path d="M489 433.3H687.6" stroke="#9aa3ab" stroke-width="0.75" stroke-opacity="0.8"/>
<path d="M489 452.5H687.6" stroke="#9aa3ab" stroke-width="0.75" stroke-opacity="0.8"/>
<path d="M489 475.2H687.6" stroke="#9aa3ab" stroke-width="0.75" stroke-opacity="0.8"/>
<path d="M489 497.9H687.6" stroke="#9aa3ab" stroke-width="0.75" stroke-opacity="0.8"/>
<path d="M489 520.4H687.6" stroke="#9aa3ab" stroke-width="0.75" stroke-opacity="0.8"/>
<path d="M489 541.3H687.6" stroke="#9aa3ab" stroke-width="0.75" stroke-opacity="0.8"/>
<path d="M515.5 319.3V553" stroke="#9aa3ab" stroke-width="0.75" stroke-opacity="0.8"/>
<path d="M548.5 319.3V553" stroke="#9aa3ab" stroke-width="0.75" stroke-opacity="0.8"/>
<path d="M581.4 319.3V553" stroke="#9aa3ab" stroke-width="0.75" stroke-opacity="0.8"/>
<path d="M614.4 319.3V553" stroke="#9aa3ab" stroke-width="0.75" stroke-opacity="0.8"/>
<path d="M650.4 319.3V553" stroke="#9aa3ab" stroke-width="0.75" stroke-opacity="0.8"/>
<circle cx="501.3" cy="332.4" r="10.4" fill="#a8dc3c"/>
<circle cx="534.9" cy="332.6" r="11.6" fill="#86d45a"/>
<circle cx="568.1" cy="332.4" r="10.1" fill="#94d84c"/>
<circle cx="501.3" cy="358.5" r="8.7" fill="#acdf3a"/>
<circle cx="534.9" cy="358.5" r="10" fill="#7fd060"/>
<circle cx="568.1" cy="358.5" r="8.5" fill="#92d650"/>
<circle cx="534.9" cy="382.6" r="10.3" fill="#84d45c"/>
<circle cx="568.1" cy="396.3" r="6.7" fill="#b0de30"/>
<circle cx="601.8" cy="396" r="7" fill="#acd934"/>
<circle cx="601.8" cy="414.7" r="8.2" fill="#3a9c98" stroke="#2a8f8c" stroke-width="1.4"/>
<circle cx="568.1" cy="431.9" r="6.7" fill="#a8dc38"/>
<circle cx="635.3" cy="431.9" r="6.7" fill="#a8d838"/>
<circle cx="668.9" cy="431.9" r="6.7" fill="#a8d838"/>
<circle cx="601.8" cy="452.5" r="9.4" fill="#3a9c98" stroke="#2a8f8c" stroke-width="1.4"/>
<circle cx="635.3" cy="452.5" r="9.9" fill="#3a9c98" stroke="#2a8f8c" stroke-width="1.4"/>
<circle cx="668.9" cy="453" r="8.5" fill="#3a9c98" stroke="#2a8f8c" stroke-width="1.4"/>
<circle cx="601.8" cy="476.7" r="10" fill="#3a9c98" stroke="#2a8f8c" stroke-width="1.4"/>
<circle cx="635.3" cy="476.7" r="10.7" fill="#3a9c98" stroke="#2a8f8c" stroke-width="1.4"/>
<circle cx="668.9" cy="476.7" r="9.4" fill="#3a9c98" stroke="#2a8f8c" stroke-width="1.4"/>
<circle cx="668.9" cy="498.3" r="8.7" fill="#a8d838"/>
<circle cx="635.3" cy="520.4" r="7" fill="#9ed63a"/>
<circle cx="668.9" cy="520.4" r="7.6" fill="#3a9c98" stroke="#2a8f8c" stroke-width="1.4"/>
<circle cx="635.3" cy="542" r="7.4" fill="#98d432"/>
<circle cx="668.9" cy="542" r="7.6" fill="#3a9c98" stroke="#2a8f8c" stroke-width="1.4"/>
<path d="M481.4 565H544.4" stroke="#000" stroke-width="1.9"/>
<path d="M560.4 565H617.6" stroke="#000" stroke-width="1.9"/>
<path d="M634.2 565H691.4" stroke="#000" stroke-width="1.9"/>
<text x="517.4" y="595.1" font-size="27.5" fill="#000" stroke="#000" stroke-width="0.3" text-anchor="middle" >I</text>
<text x="589" y="595.1" font-size="27.5" fill="#000" stroke="#000" stroke-width="0.3" text-anchor="middle" >II</text>
<text x="661" y="595.1" font-size="27.5" fill="#000" stroke="#000" stroke-width="0.3" text-anchor="middle" >III</text>
<text x="889.8" y="268.8" font-size="37.5" fill="#000" stroke="#000" stroke-width="0.3" text-anchor="start" >Dynamics of histone modifications</text>
<rect x="897.2" y="280.3" width="23.7" height="57.7" fill="#029548"/>
<rect x="897.2" y="348" width="23.7" height="206.3" fill="#b3b3b3"/>
<rect x="897.2" y="562.4" width="23.7" height="26.2" fill="#ff0000"/>
<rect x="897.2" y="596.1" width="23.7" height="12.8" fill="#0070c0"/>
<rect x="1076.2" y="280.3" width="23.8" height="58" fill="#029548"/>
<rect x="1076.2" y="348.3" width="23.8" height="151.5" fill="#b3b3b3"/>
<rect x="1076.2" y="508.1" width="23.8" height="84.1" fill="#ff0000"/>
<rect x="1076.2" y="599.7" width="23.8" height="9.2" fill="#0070c0"/>
<rect x="1255.4" y="280.3" width="23.6" height="69.6" fill="#029548"/>
<rect x="1255.4" y="359.4" width="23.6" height="146.2" fill="#b3b3b3"/>
<rect x="1255.4" y="514.3" width="23.6" height="77.9" fill="#ff0000"/>
<rect x="1255.4" y="599.7" width="23.6" height="9.9" fill="#0070c0"/>
<rect x="1434.3" y="280.3" width="23.5" height="31.6" fill="#029548"/>
<rect x="1434.3" y="317.9" width="23.5" height="146.8" fill="#b3b3b3"/>
<rect x="1434.3" y="473" width="23.5" height="115.7" fill="#ff0000"/>
<rect x="1434.3" y="596.1" width="23.5" height="13" fill="#0070c0"/>
<rect x="934.2" y="280.3" width="129.9" height="330" fill="#fff"/>
<path d="M934.2 374.4C999.1 374.4 999.1 373.6 1064.1 373.6L1064.1 490.5C999.1 490.5 999.1 491.5 934.2 491.5Z" fill="#b3b3b3"/>
<path d="M934.2 491.5C999.1 491.5 999.1 510.1 1064.1 510.1L1064.1 573.5C999.1 573.5 999.1 553.6 934.2 553.6Z" fill="#b3b3b3"/>
<path d="M934.2 348C999.1 348 999.1 310.3 1064.1 310.3L1064.1 337.2C999.1 337.2 999.1 374.4 934.2 374.4Z" fill="#b3b3b3"/>
<path d="M934.2 280.3C999.1 280.3 999.1 280.3 1064.1 280.3L1064.1 309.5C999.1 309.5 999.1 308.8 934.2 308.8Z" fill="#029548"/>
<path d="M934.2 308.8C999.1 308.8 999.1 347.5 1064.1 347.5L1064.1 373.6C999.1 373.6 999.1 336.4 934.2 336.4Z" fill="#029548"/>
<path d="M934.2 573.5C999.1 573.5 999.1 573.5 1064.1 573.5L1064.1 588.6C999.1 588.6 999.1 588.6 934.2 588.6Z" fill="#ff0000"/>
<path d="M934.2 563.5C999.1 563.5 999.1 490.9 1064.1 490.9L1064.1 499.3C999.1 499.3 999.1 572.4 934.2 572.4Z" fill="#ff0000"/>
<path d="M934.2 601.1C999.1 601.1 999.1 602.7 1064.1 602.7L1064.1 610.3C999.1 610.3 999.1 610.3 934.2 610.3Z" fill="#0070c0"/>
<path d="M934.2 598C999.1 598 999.1 589.4 1064.1 589.4L1064.1 592.2C999.1 592.2 999.1 601.2 934.2 601.2Z" fill="#0070c0"/>
<path d="M934.2 553.9C999.1 553.9 999.1 601.3 1064.1 601.3" fill="none" stroke="#b3b3b3" stroke-width="0.7" stroke-opacity="0.8"/>
<path d="M934.2 336.9C999.1 336.9 999.1 508.6 1064.1 508.6" fill="none" stroke="#117a4a" stroke-width="1.3"/>
<path d="M934.2 337.7C999.1 337.7 999.1 600.6 1064.1 600.6" fill="none" stroke="#117a4a" stroke-width="1.0"/>
<path d="M934.2 562.8C999.1 562.8 999.1 337.7 1064.1 337.7" fill="none" stroke="#e0242a" stroke-width="0.7" stroke-opacity="0.9"/>
<path d="M934.2 589.1C999.1 589.1 999.1 602 1064.1 602" fill="none" stroke="#e0242a" stroke-width="0.8" stroke-opacity="0.6"/>
<path d="M934.2 596.9C999.1 596.9 999.1 338.8 1064.1 338.8" fill="none" stroke="#1b62a6" stroke-width="1.3"/>
<path d="M934.2 597.6C999.1 597.6 999.1 499.9 1064.1 499.9" fill="none" stroke="#1b62a6" stroke-width="0.7" stroke-opacity="0.8"/>
<rect x="1113.1" y="280.3" width="130" height="330" fill="#fff"/>
<path d="M1113.1 383.1C1178.1 383.1 1178.1 385 1243.1 385L1243.1 465.9C1178.1 465.9 1178.1 465 1113.1 465Z" fill="#b3b3b3"/>
<path d="M1113.1 465C1178.1 465 1178.1 512.6 1243.1 512.6L1243.1 548.5C1178.1 548.5 1178.1 499.8 1113.1 499.8Z" fill="#b3b3b3"/>
<path d="M1113.1 348.3C1178.1 348.3 1178.1 310.3 1243.1 310.3L1243.1 345.1C1178.1 345.1 1178.1 383.1 1113.1 383.1Z" fill="#b3b3b3"/>
<path d="M1113.1 280.3C1178.1 280.3 1178.1 280.3 1243.1 280.3L1243.1 309.5C1178.1 309.5 1178.1 309.5 1113.1 309.5Z" fill="#029548"/>
<path d="M1113.1 310.3C1178.1 310.3 1178.1 358 1243.1 358L1243.1 385C1178.1 385 1178.1 338.3 1113.1 338.3Z" fill="#029548"/>
<path d="M1113.1 549.3C1178.1 549.3 1178.1 550.2 1243.1 550.2L1243.1 591.1C1178.1 591.1 1178.1 591.1 1113.1 591.1Z" fill="#ff0000"/>
<path d="M1113.1 510.3C1178.1 510.3 1178.1 466.7 1243.1 466.7L1243.1 505.9C1178.1 505.9 1178.1 546.8 1113.1 546.8Z" fill="#ff0000"/>
<path d="M1113.1 508.1C1178.1 508.1 1178.1 345.3 1243.1 345.3L1243.1 348.3C1178.1 348.3 1178.1 510.4 1113.1 510.4Z" fill="#e00008"/>
<path d="M1113.1 601.9C1178.1 601.9 1178.1 603.2 1243.1 603.2L1243.1 610.3C1178.1 610.3 1178.1 610.3 1113.1 610.3Z" fill="#0070c0"/>
<path d="M1113.1 600.6C1178.1 600.6 1178.1 591.3 1243.1 591.3L1243.1 592.8C1178.1 592.8 1178.1 602 1113.1 602Z" fill="#0070c0"/>
<path d="M1113.1 499.9C1178.1 499.9 1178.1 602.3 1243.1 602.3" fill="none" stroke="#b3b3b3" stroke-width="0.5" stroke-opacity="0.8"/>
<path d="M1113.1 338.5C1178.1 338.5 1178.1 511.5 1243.1 511.5" fill="none" stroke="#117a4a" stroke-width="1.0" stroke-opacity="0.9"/>
<path d="M1113.1 339.2C1178.1 339.2 1178.1 601.5 1243.1 601.5" fill="none" stroke="#117a4a" stroke-width="0.8" stroke-opacity="0.9"/>
<path d="M1113.1 591.7C1178.1 591.7 1178.1 602.6 1243.1 602.6" fill="none" stroke="#e0242a" stroke-width="1.1" stroke-opacity="0.8"/>
<path d="M1113.1 600C1178.1 600 1178.1 349.3 1243.1 349.3" fill="none" stroke="#1b62a6" stroke-width="0.9"/>
<path d="M1113.1 600.6C1178.1 600.6 1178.1 506.6 1243.1 506.6" fill="none" stroke="#1b62a6" stroke-width="0.6" stroke-opacity="0.8"/>
<rect x="1292.2" y="280.3" width="129.6" height="330" fill="#fff"/>
<path d="M1292.2 363C1357 363 1357 361 1421.8 361L1421.8 440.5C1357 440.5 1357 441.3 1292.2 441.3Z" fill="#b3b3b3"/>
<path d="M1292.2 441.7C1357 441.7 1357 474.2 1421.8 474.2L1421.8 539.3C1357 539.3 1357 505.6 1292.2 505.6Z" fill="#b3b3b3"/>
<path d="M1292.2 359.4C1357 359.4 1357 308 1421.8 308L1421.8 311.4C1357 311.4 1357 363 1292.2 363Z" fill="#b3b3b3"/>
<path d="M1292.2 280.3C1357 280.3 1357 280.3 1421.8 280.3L1421.8 307.2C1357 307.2 1357 307.2 1292.2 307.2Z" fill="#029548"/>
<path d="M1292.2 307.2C1357 307.2 1357 319.8 1421.8 319.8L1421.8 360.2C1357 360.2 1357 348.3 1292.2 348.3Z" fill="#029548"/>
<path d="M1292.2 539.8C1357 539.8 1357 539.8 1421.8 539.8L1421.8 593.6C1357 593.6 1357 592.2 1292.2 592.2Z" fill="#ff0000"/>
<path d="M1292.2 514.3C1357 514.3 1357 440.8 1421.8 440.8L1421.8 465C1357 465 1357 538.5 1292.2 538.5Z" fill="#ff0000"/>
<path d="M1292.2 602C1357 602 1357 604.1 1421.8 604.1L1421.8 610.4C1357 610.4 1357 610.4 1292.2 610.4Z" fill="#0070c0"/>
<path d="M1292.2 599.9C1357 599.9 1357 594.3 1421.8 594.3L1421.8 596.6C1357 596.6 1357 602 1292.2 602Z" fill="#0070c0"/>
<path d="M1292.2 505.6C1357 505.6 1357 603.3 1421.8 603.3" fill="none" stroke="#b3b3b3" stroke-width="0.5" stroke-opacity="0.8"/>
<path d="M1292.2 348.8C1357 348.8 1357 473.5 1421.8 473.5" fill="none" stroke="#117a4a" stroke-width="0.8" stroke-opacity="0.6"/>
<path d="M1292.2 349.5C1357 349.5 1357 603.5 1421.8 603.5" fill="none" stroke="#117a4a" stroke-width="0.7" stroke-opacity="0.6"/>
<path d="M1292.2 513.9C1357 513.9 1357 311.7 1421.8 311.7" fill="none" stroke="#e0242a" stroke-width="0.6" stroke-opacity="0.6"/>
<path d="M1292.2 592.5C1357 592.5 1357 603.8 1421.8 603.8" fill="none" stroke="#e0242a" stroke-width="0.7" stroke-opacity="0.5"/>
<path d="M1292.2 599.8C1357 599.8 1357 312.2 1421.8 312.2" fill="none" stroke="#1b62a6" stroke-width="0.6" stroke-opacity="0.6"/>
<path d="M1292.2 600.3C1357 600.3 1357 465.5 1421.8 465.5" fill="none" stroke="#1b62a6" stroke-width="0.5" stroke-opacity="0.55"/>
<text x="891.8" y="309.7" font-size="33" fill="#0b9150" stroke="#0b9150" stroke-width="0.3" text-anchor="end" >H3K4me3</text>
<text x="891.8" y="419.6" font-size="33" fill="#7f8688" stroke="#7f8688" stroke-width="0.3" text-anchor="end" >Unmarked</text>
<text x="891.8" y="581.7" font-size="33" fill="#e0141c" stroke="#e0141c" stroke-width="0.3" text-anchor="end" >H3K27me3</text>
<text x="891.8" y="612.1" font-size="33" fill="#1a6db3" stroke="#1a6db3" stroke-width="0.3" text-anchor="end" >Bivalent</text>
<text x="882.3" y="650.8" font-size="33" fill="#000" stroke="#000" stroke-width="0.3" text-anchor="start" >hPSC</text>
<text x="1061.2" y="650.8" font-size="33" fill="#000" stroke="#000" stroke-width="0.3" text-anchor="start" >VME</text>
<text x="1229.8" y="650.8" font-size="33" fill="#000" stroke="#000" stroke-width="0.3" text-anchor="start" >EPC</text>
<text x="1401.5" y="650.8" font-size="33" fill="#000" stroke="#000" stroke-width="0.3" text-anchor="start" >HPC</text>
<text x="85" y="725.9" font-size="37.5" fill="#000" stroke="#000" stroke-width="0.3" text-anchor="start" >HEC indentification</text>
<text x="469" y="725.4" font-size="37.5" fill="#000" stroke="#000" stroke-width="0.3" text-anchor="start" >Comparison analysis</text>
<rect x="87.5" y="738.8" width="316.2" height="285.3" fill="none" stroke="#111" stroke-width="1.5"/>
<rect x="494.6" y="740.6" width="301.7" height="285.3" fill="none" stroke="#111" stroke-width="1.5"/>
<text x="75.1" y="1020.8" font-size="33" fill="#000" stroke="#000" stroke-width="0.3" text-anchor="start" transform="rotate(-90 75.1 1020.8)" >UMAP2</text>
<text x="86" y="1067.3" font-size="33" fill="#000" stroke="#000" stroke-width="0.3" text-anchor="start" >UMAP1</text>
<text x="473.3" y="995.5" font-size="33" fill="#000" stroke="#000" stroke-width="0.3" text-anchor="start" transform="rotate(-90 473.3 995.5)" ><tspan font-style="italic">in vivo</tspan> HEC</text>
<text x="560.5" y="1067.6" font-size="33" fill="#000" stroke="#000" stroke-width="0.3" text-anchor="start" ><tspan font-style="italic">in vitro</tspan> HEC</text>
<path d="M121.9 838.9h0M136.1 811.9h0M116.4 878.3h0M158.2 883.9h0M116.6 890.1h0M128.2 829.5h0M131.9 884.9h0M117.3 848.2h0M105.1 846.6h0M156.8 858.7h0M131.1 837h0M158 892.8h0M111.8 909.6h0M111.1 860.8h0M149.2 903.4h0M125.8 845.2h0M180.1 851.7h0M158.7 863h0M120.9 842.2h0M149.6 844.5h0M133.9 838.4h0M105.9 895.4h0M171.9 866.7h0M101.4 861.1h0M161.2 882.8h0M121.1 897.3h0M106.1 868.5h0M180 844.5h0M143.7 832.7h0M124.2 897h0M154.2 829.1h0M169 883.1h0M103.6 875.6h0M141.3 884.6h0M120.9 929.6h0M136.2 837.3h0M147.5 909.7h0M114.7 851.3h0M137.7 880.1h0M128 889.9h0M117.5 838.5h0M102.2 895.9h0M118.3 901.2h0M116 826.2h0M141 917.4h0M136.3 873h0M134.2 855.2h0M113.7 870.4h0M136.1 846.7h0M138.2 928.1h0M142.3 837.6h0M134.1 815.9h0M131.9 945.4h0M120.9 917.3h0M139.3 866.8h0M110.3 849.2h0M147.7 912.2h0M100.8 889.4h0M152.8 902.1h0M118 824.5h0M152.8 894.3h0M135.8 889.3h0M115 907.8h0M118.4 863h0M160.3 849.7h0M125.9 912.8h0M102.3 871.8h0M131 829.8h0M174.3 849.6h0M105.6 885h0M121.6 892.2h0M156.6 844.6h0M167 884.8h0M125.1 933.3h0M134.6 894.5h0M127.4 937.8h0M173.7 845h0M116.8 921.8h0M139.8 850.4h0M127 928.5h0M188.8 846.7h0M165.8 851.6h0M153.9 879.2h0M132.5 888.3h0M119.9 906.8h0M130.5 817.5h0M159.5 853.9h0M125.7 926.2h0M125.2 864.8h0M134.2 849.1h0M107.6 866.5h0M124.4 884.3h0M158.6 872.7h0M141.1 933.6h0M103.5 879.8h0M156.5 854.6h0M160.4 839.1h0M119 874.1h0M114.1 905h0M143.1 841.8h0M145.4 814.8h0M119.4 926.3h0M139.4 919.7h0M164.9 878.3h0M141.2 844h0M169.4 880.6h0M121.6 852.4h0M147.5 827.1h0M117.7 904.7h0M134.7 883.6h0M135.9 934.2h0M151.8 904.9h0M129.3 913h0M135.8 912.2h0M148.1 892h0M127.8 902.6h0M134.4 830.8h0M140.5 825.6h0M108.4 872.3h0M168.9 860.7h0M97.2 883.1h0M107.5 901.3h0M149.8 838.2h0M111.5 892.6h0M162.1 895.4h0M171 856.3h0M136.7 859.5h0M144.2 855.4h0M163.7 868.6h0M121.4 920.7h0M147.3 875.3h0M137.4 909.9h0M140.2 893h0M115.8 919.2h0M128.2 930.7h0M163.1 846.3h0M103.6 908.3h0M142.5 913.7h0M162.1 898h0M151.5 873.9h0M146.6 867.2h0M167.4 854h0M113.2 838h0M142.1 909h0M122.7 821.8h0M147 846.1h0M179.3 876.3h0M140.7 869.3h0M174.8 863.7h0M149.7 850.2h0M145.8 870.7h0M155.4 892.9h0M152.7 848.4h0M163.3 871.2h0M167.7 887.3h0M123.2 825.1h0M143.1 819h0M99.1 868.1h0M126.5 842.7h0M160.3 845.4h0M140.8 898.8h0M128.9 854.3h0M134.4 879.6h0M113.4 858.3h0M137.7 905.3h0M154.2 841.2h0M110.6 884.7h0M148.7 820.8h0M175.8 877.4h0M121.7 924.4h0M148.6 861.3h0M135.4 938.3h0M144.4 922.4h0M122.6 849.5h0M142.7 828.5h0M147.4 856h0M148.7 883.7h0M98.9 877.9h0M179.8 869.3h0M165.2 865h0M132 852h0M167.5 868.4h0M123.7 860.1h0M109.4 882h0M110.6 869.5h0M157.1 867h0M114.6 861.5h0M150.6 888.1h0M121.8 886.8h0M100 892.5h0M154 857h0M157.8 850.9h0M175.1 875.1h0M128.1 823.8h0M130.7 918.2h0M139.3 901.7h0M160.3 889.4h0M124.7 876.6h0M135.4 821.6h0M142.6 864.8h0M131.1 869.7h0M104.9 903.5h0M130 863.4h0M177.3 871.3h0M159.4 897.4h0M107.5 886.6h0M119.5 832.1h0M118.3 853h0M167 881.2h0M167.4 874.3h0M105.8 878.1h0M161.7 876.2h0M103.1 892.7h0M139 839.7h0M128.1 871.1h0M136.6 900.7h0M104.6 911h0M129.5 900.7h0M163.3 850.9h0M134.1 827.6h0M131.1 908.6h0M170.4 887h0M159.3 875.6h0M133.5 891.5h0M126.7 919.7h0M152.2 880.9h0M111.6 879.1h0M182.9 856.6h0M170 876.8h0M138.7 936.9h0M149.9 896.5h0M125.3 870.9h0M181.9 870.6h0M126.4 874.2h0M128.5 907.5h0M119.3 868.9h0M122.7 864.9h0M109 856.6h0M186 851h0M130.3 858.4h0M137.6 865.1h0M146.9 851h0M173.5 873.3h0M176.1 859.1h0M139.9 847.1h0M132.2 881.4h0M177.6 847.6h0M169.1 845.9h0M137.6 940h0M116.8 870.8h0M108.7 906.3h0M135.9 918.7h0M139.5 823.2h0M96.9 879.7h0M118.7 827.8h0M118.6 865.9h0M146.2 878.6h0M133.1 873.4h0M112.2 916.6h0M140.2 904.9h0M179 854.1h0M107.3 859.2h0M181.8 861.8h0M145.5 919.7h0M103 900.1h0M124.9 891.9h0M179.4 857h0M191.8 846.1h0M109.1 892.6h0M131.3 914.4h0M133.8 898.5h0M142.8 824.9h0M177.1 852.4h0M172.1 878.8h0M108.7 918.2h0M103.6 851h0M146.1 915.2h0M157.3 888.3h0M143.5 895.4h0M142 920.2h0M137.8 875.4h0M115 892.5h0M125.5 908.1h0M110.7 853.5h0M137 931h0M150.5 834.9h0M148.8 818h0M127 893.4h0M127.8 923.5h0M146.8 906.8h0M124.3 921.7h0M151.2 908.5h0M151.7 831.6h0M109.9 904.2h0M135 916h0M126.7 900.3h0M157.5 904.6h0M154.3 834.6h0M119.1 885.7h0M126 856.5h0M160.7 860.8h0M164.4 856.1h0M138.1 843.6h0M154.8 889.7h0M146.7 896.9h0M100.4 865.5h0M133.7 877h0M96.2 887.1h0M140.6 834.7h0M175.3 879.7h0M106.7 850.6h0M183.9 849h0M154.7 838.4h0M119.2 913.2h0M102.8 886.6h0M101.3 884.3h0M144.2 887.8h0M145.6 824h0M133.6 921.8h0M99.7 855.9h0M131.6 903.1h0M158.5 856.3h0M112.6 882.8h0M119.2 856.1h0M126.3 849.9h0M171.3 852.3h0M141.1 926.4h0M118.8 836.2h0M121.3 901.9h0M113.5 914.2h0M183.9 865.5h0M175.5 885.2h0M170.5 890.7h0M192 837.6h0M193.3 860.5h0M167.4 868.4h0M178 879.2h0M172.1 863.9h0M171.4 846.7h0M190.4 853.6h0M166.7 839.4h0M178.9 856.6h0M164.3 851h0M176.2 871.6h0M182.5 846.4h0M164.8 880.4h0M161.1 832.3h0M167 874.9h0M159.4 862.1h0M172.7 853.8h0M193 844.4h0M182.5 883.8h0M185.1 836.1h0M164.9 861.8h0M160.5 843.5h0" stroke="#a0219f" stroke-width="4.7" stroke-linecap="round" fill="none"/>
<path d="M228.6 984.7h0M191.3 1000.2h0M160.3 982.2h0M214.1 992.1h0M187.9 956.4h0M161.8 954.9h0M228.9 962.8h0M225.8 954.1h0M150.6 934.8h0M143.8 964.4h0M216.3 994.5h0M226 962.1h0M185.5 965.4h0M236.8 991.3h0M212.4 1011.9h0M287.5 991.9h0M222.3 1002h0M161.8 931.3h0M167.8 989.4h0M147.3 968.5h0M162.8 957.6h0M181.9 1001.2h0M186.9 983h0M225 986.2h0M150 939.2h0M161.2 940.3h0M220.3 965.8h0M228.1 960.1h0M199.9 969.1h0M187.9 973.5h0M223.3 1007h0M228.2 970.5h0M227.7 965.4h0M196.6 968.3h0M245.9 992.6h0M172.1 977h0M209 973.8h0M152.7 959.3h0M182 969.5h0M178.4 983.1h0M216.8 969h0M279.1 994.7h0M205.4 1003.5h0M147.5 934.1h0M168.9 982h0M202.7 1002.8h0M169.6 971.9h0M181.8 957.6h0M192.7 977.8h0M167.5 979.9h0M166.3 938.1h0M188.5 946h0M166.1 952.4h0M216.7 978.7h0M193.9 984.6h0M210.2 983.6h0M171 990h0M219 1002h0M198.6 979.6h0M187 968.4h0M230.7 965.4h0M178.3 959.7h0M192.1 988h0M205.6 996.9h0M150.5 947h0M170.4 933.4h0M177.1 988.6h0M214.7 957h0M213.7 988.8h0M251.8 995.8h0M153 937h0M270.1 992.8h0M206.2 961.6h0M149.1 970.3h0M173.3 981.5h0M236.3 994.8h0M159.8 942.5h0M171.6 965.4h0M200.1 1001.2h0M139.4 954.6h0M230.5 960.7h0M211 970.1h0M235.1 999.5h0M210.3 959.6h0M224 958.9h0M192 1011.7h0M216.7 959.1h0M178.3 956.4h0M185.4 1001h0M190 984.1h0M156.3 942.8h0M179.7 953.2h0M220.6 1004.3h0M176.9 999.2h0M182.3 987.3h0M180.7 980.6h0M184 991.1h0M200.4 1011.3h0M193.5 966.3h0M212.2 993.9h0M228.3 957.1h0M197.2 952.1h0M188.5 987.6h0M203.6 994.7h0M205.1 980.6h0M189.1 958.7h0M200.9 1004.7h0M184.1 974.5h0M191.5 968.1h0M199.5 985.6h0M190.1 948.2h0M189.7 952.2h0M148.8 963.7h0M179.5 991.5h0M157.5 938.6h0M164.8 963.4h0M209.4 998.1h0M233.7 995.7h0M161.4 951.8h0M173.2 959.5h0M257.8 989.5h0M186.5 979.2h0M203.1 982.4h0M164.8 973.8h0M192.9 953.7h0M173.8 950.9h0M170.2 986.7h0M227 974.7h0M236 976.3h0M152.2 942.7h0M147.3 946.2h0M232.2 979h0M212.6 974.9h0M156.3 932.8h0M169.4 975.4h0M172.3 970.2h0M229.6 979h0M186 1005.5h0M177.8 950.6h0M228.3 953.7h0M154.1 952.9h0M213.8 1004.5h0M191.5 957.9h0M202.9 1014.9h0M194.7 999.8h0M185.2 959.7h0M189.5 998.4h0M190.2 977h0M169.7 945h0M154.7 947.6h0M244.2 988.9h0M197.2 1010.7h0M185.8 943.6h0M230.1 995.8h0M179.7 974.3h0M264.6 991h0M188.3 1004.2h0M213.3 967.8h0M156.7 963.2h0M240.1 993.2h0M210.5 1006.7h0M192.5 974h0M173.9 964.7h0M179.4 945.7h0M211.5 986.8h0M194.9 1006.7h0M171.3 953.2h0M209.3 994.1h0M209.8 962.1h0M170.7 960.3h0M216.6 981.2h0M178.8 935.4h0M160.2 948.1h0M162.7 989.5h0M163.7 971.2h0M191.1 1007.5h0M155.7 969.2h0M235.1 984.1h0M173 937.1h0M202.8 1007.3h0M167.3 986.2h0M205.8 986.4h0M169.5 941.9h0M160.6 928.2h0M182.7 996.3h0M196.6 984.6h0M174.2 967.5h0M155.4 976.1h0M194.7 980.8h0M222.4 999.3h0M164.3 983.9h0M185.4 1008.6h0M178.1 976.6h0M162 966.2h0M246.3 995.6h0M192.7 950.3h0M213 979.3h0M266 995.4h0M173.8 934.6h0M178.2 972.2h0M233.1 986.8h0M195.8 987.4h0M201.2 994.1h0M267.2 992.7h0M180 998.7h0M171.3 996.6h0M202.4 957.4h0M167.6 960.6h0M155.5 979h0M174 985.2h0M204.5 976.2h0M195.2 1013.9h0M219.6 969.2h0M217.9 965.5h0M228.1 976.9h0M146.8 957.3h0M290.8 992.6h0M223.2 992.8h0M166.5 941.9h0M203.4 989.7h0M159.9 956.9h0M192.4 994.8h0M147 959.7h0M166.9 945.3h0M200.4 966.6h0M221.6 986.6h0M230.5 974.4h0M201.3 975.7h0M228.3 981.6h0M281.9 991.1h0M149.3 943.9h0M197.6 1002.8h0M144.7 938.2h0M223.9 982.4h0M199.2 977.3h0M156.8 945.9h0M211.9 991h0M200.3 958.8h0M190.2 962.1h0M172.6 942.8h0M160.3 935.1h0M162.8 960.7h0M209.1 989.4h0M202.5 997.6h0M169.5 963.2h0M188.2 1008.7h0M170.3 939h0M231.9 1001.9h0M162.1 963.6h0M163.1 976.3h0M168.5 951h0M216.7 1009.1h0M258.8 995.5h0M199.1 1009h0M150.3 954.8h0M223.1 969.2h0M160.7 975.3h0M167.7 954.9h0M261.2 991.5h0M247.7 988h0M148.1 949.4h0M218.3 995.9h0M144.4 957.8h0M167.2 933.8h0M200.9 953.2h0M184.3 946.9h0M187.3 939.8h0M239.5 988.5h0M158.4 951.2h0M191 943.1h0M158 954.9h0M180.5 966.7h0M182.2 938.3h0M181.6 954.7h0M256.2 993.3h0M205.9 1001h0M242.9 995.8h0M150.2 968.2h0M154.9 950.4h0M188.5 991.9h0M226.5 983.4h0M190.3 1002.6h0M143 951.3h0M147.8 931.3h0M172.9 946.6h0M218.5 955h0M217.1 987.2h0M285.6 994.1h0M183 976.7h0M220.3 962.7h0M191.5 971.4h0M254 991.8h0M156.9 984.1h0M279.3 990.9h0M228.6 1004.6h0M227.9 990.3h0M203.3 978.9h0M197.7 1016.3h0M178.4 937.8h0M210.9 1002.5h0M195.3 962.4h0M142.6 954.7h0M232.2 989.8h0M184.9 940.1h0M184.4 955.8h0M155.2 939.4h0M144.6 942h0M222.5 989.4h0M197.9 949.4h0M161.3 937.4h0M158 972.3h0M207.4 1005.8h0M200.7 981.3h0M162.9 980.6h0M221.1 983.6h0M180.2 964.4h0M165.5 992.3h0M177.2 970h0M217 998.3h0M222.2 954.9h0M197.8 990.3h0M234.7 989.9h0M198.6 998.2h0M212 999.2h0M204.2 959.9h0M207.9 984.3h0M212.4 963.6h0M212.7 960.9h0M172.9 973.4h0M141.4 962.5h0M157.4 965.7h0M168.9 977.9h0M162.4 968.9h0M183.8 981.7h0M164.1 939.8h0M195.3 978.1h0M219.8 952.3h0M168.4 931.2h0M178.3 942.4h0M205.8 954.3h0M204.8 970.2h0M284.3 991.9h0M171.6 955.9h0M219.2 974.3h0M236.6 981.8h0M207.8 1013.2h0M224.7 995.2h0M174.8 954.3h0M186.1 985.5h0M143.7 946.3h0M264.7 904.3h0M195.7 924.7h0M215.5 914.8h0M253.7 905.7h0M255 925.8h0M212 922.5h0M269.9 944.2h0M236.1 908.1h0M231.8 889.3h0M179.5 902.8h0M202.5 925.7h0M188.6 936.1h0M269.3 887h0M194.9 934h0M239.6 916.2h0M267.7 908.3h0M225.6 926h0M261.3 948.5h0M251.1 944.1h0M269 956.7h0M179.2 918.8h0M251.2 919.8h0M197.1 891.7h0M252.2 911.6h0M208.9 899.5h0M269.1 939h0M265.4 931.3h0M241.5 899.8h0M205 910.6h0M209 941.4h0M178.2 923.3h0M254.7 901.2h0M265.6 922h0M236.4 900.2h0M171.5 918.9h0M273.7 954.4h0M260.1 891.8h0M258.1 929.4h0M227.6 894.1h0M203.8 931.6h0M203.7 915.9h0M175.1 908.3h0M199.4 887.2h0M243.9 949.7h0M259 912.3h0M203.1 951.1h0M186.7 901.2h0M241.6 907.4h0M226.7 907.5h0M263.7 941h0M212.4 934.1h0M218.5 920.1h0M278.8 971.6h0M275 973.7h0M286.7 982.3h0M290.1 972.8h0M298.8 975.4h0M292.5 955.9h0M302.3 985.2h0M284.7 990.5h0M275.3 982.3h0M286.2 951.3h0M272.8 976.9h0M272.1 971h0M278.1 965.8h0M287.9 987.2h0M275.9 959.3h0M298.4 954h0M281.1 976.1h0M280.5 956.8h0M274.5 954.2h0M269.2 977.1h0M304 980.2h0M293.4 977.6h0M302.4 973h0M290.3 979h0M297.3 949.3h0M295.6 985.4h0M278.5 985.5h0M294.1 970.9h0M271.5 981.2h0M283.2 980.9h0M214.4 815.7h0M238.1 815.7h0M240.3 821.7h0M203.9 824.9h0M199.1 829.6h0M180.7 829.6h0M288.2 892.1h0M292.2 892.9h0M311.9 925h0M289.5 919.2h0" stroke="#cb2229" stroke-width="4.7" stroke-linecap="round" fill="none"/>
<path d="M290.4 749.5h0M350 825.4h0M323.8 801.1h0M325.4 816.2h0M292.6 794.9h0M355.9 806.1h0M319.1 839.6h0M335.8 847.3h0M323.6 835.7h0M327.6 789.1h0M261.5 762.1h0M301.6 802.6h0M227.3 794.6h0M304 767.5h0M277.1 763h0M234.5 779.6h0M307.1 771.4h0M238.7 787.4h0M310.8 860.7h0M251.9 788.8h0M338.4 800.3h0M306.8 822.8h0M319.4 823.4h0M357.5 810.4h0M323.2 807h0M312.6 778.2h0M316.2 847.7h0M316 794.8h0M305.2 827.1h0M286.3 800.1h0M332.2 829.1h0M243.6 788.4h0M287.6 773h0M268.4 786.7h0M342.9 837.8h0M318.8 766.8h0M248.2 766.2h0M284.4 746.9h0M309.9 771.6h0M306.8 799.7h0M322.7 772.9h0M329.3 861.4h0M307.5 832.4h0M306.1 793.7h0M342.4 833.3h0M338 846.3h0M295.4 804.1h0M243 799h0M321.1 837.4h0M292.4 763.2h0M231.2 795.4h0M319.8 803.7h0M341.6 814.4h0M330.6 785.5h0M328 855.1h0M300.9 759.3h0M339.3 796.5h0M324.7 822.9h0M286.8 793.8h0M338.4 807.1h0M247 763.1h0M252.7 773h0M264.3 781.9h0M319.1 756.6h0M345.3 779.3h0M323.6 864.3h0M330.6 841.9h0M296.1 783.5h0M355.2 796.8h0M326.6 850h0M274 751.9h0M298.7 774.6h0M284 773.8h0M303.2 813.9h0M333.8 810.1h0M320.4 762h0M315 766h0M315.6 779.4h0M283 762.1h0M233.6 798.9h0M329.5 762.2h0M315 807.3h0M320.1 868.9h0M329.4 829.2h0M267.8 763.2h0M262.6 755h0M309 857h0M316.1 786.9h0M296.4 817.5h0M357.8 815.3h0M307.1 820.2h0M344.6 826.1h0M334.5 817h0M312 816.2h0M310.2 783.4h0M299 800h0M312.8 865.2h0M321.8 849.8h0M323.1 845.6h0M324.9 767.2h0M337 782.6h0M304.7 754h0M275.3 780.1h0M325.2 776.2h0M295.1 749.1h0M289.9 798.9h0M282.6 789.9h0M289 784.1h0M342.3 790.7h0M330.5 778.6h0M316 867.3h0M298.1 777.6h0M292.8 751.4h0M349.7 819h0M322.1 797.3h0M303.4 806.5h0M260.3 788.9h0M305.8 765.5h0M267 781.6h0M320 864h0M318.8 780.8h0M314.2 828.1h0M350.4 807.8h0M247.9 774.2h0M249.9 783.7h0M301 751.6h0M336.3 859.3h0M294.2 799.7h0M248.9 789.5h0M315.9 781.8h0M335.7 794.7h0M322.1 881.8h0M302.8 825.3h0M347.5 814.9h0M236.3 776.8h0M252 761.8h0M324.4 877.5h0M356 800.7h0M242.8 765.8h0M358.6 838h0M321.1 879h0M334.2 775.4h0M306.4 768.4h0M313.4 872.8h0M286.4 781.6h0M258.7 752.6h0M259.7 758.5h0M326.6 884.9h0M291.5 747.2h0M237.9 772.8h0M260.9 784h0M245.2 795.6h0M283.7 785.9h0M316.7 830.8h0M247.6 785.5h0M255.4 782.1h0M360 829.2h0M338.6 804.1h0M290.6 754.2h0M336.1 842.1h0M310.8 760.3h0M330 768h0M269.5 783.2h0M334.1 834.1h0M281.9 764.4h0M302.7 757.5h0M309.2 844.5h0M270.2 777.5h0M328.4 877.8h0M338.5 787.1h0M321.5 757.1h0M339.7 782.2h0M339.4 851.4h0M330.3 870h0M339 818.3h0M246 788.3h0M294.8 762.6h0M328.9 843.8h0M314.6 842.1h0M351.7 837.7h0M313.9 804.9h0M276.5 793.8h0M279.4 757.7h0M342.1 797.6h0M314.6 832.1h0M265.6 758.5h0M313.6 869.1h0M349 786.5h0M336.4 830.7h0M325 838.9h0M304 770.5h0M351 841.3h0M241.6 780.6h0M337.2 854.7h0M270.8 755.8h0M270.2 780.9h0M277.3 786.5h0M242.9 772.1h0M333.1 814.2h0M312.3 768.6h0M312.6 801.9h0M276.1 744.7h0M321.1 793.2h0M274.1 770.3h0M280.3 776.2h0M325.8 761.9h0M326.8 829.2h0M298.8 749.8h0M290.3 765.1h0M308.7 762.8h0M265.1 748.4h0M293.4 773.1h0M317.6 764.5h0M259.6 776.6h0M288.9 757.3h0M311 871.6h0M336 837.9h0M274 746.9h0M281.4 749.4h0M322.6 842.2h0M317.8 792.3h0M318.7 799.2h0M341.5 824.6h0M292.7 778h0M286.5 760.1h0M310.6 787.4h0M318 882.2h0M324.2 759.4h0M330.3 775.2h0M341.3 829.1h0M330.8 782.8h0M323.7 880h0M312.5 772.1h0M321.2 790h0M239.9 794.4h0M317.4 803.9h0M328.7 866.2h0M317.8 772h0M263.9 779.4h0M341.6 844h0M327.5 869.6h0M327.9 825.1h0M335.9 784.9h0M317 878.7h0M333.4 870.4h0M329.7 822.9h0M249.9 768.2h0M310.1 839.8h0M268.3 774.9h0M299.1 756.2h0M309.9 833.8h0M299.5 784.2h0M286.2 749.1h0M283.2 757.9h0M314.5 880.6h0M328.6 765.2h0M288.2 791.4h0M335.2 824.6h0M304.4 776.1h0M310.5 853.6h0M266 755.4h0M331.2 806.9h0M318.8 876.9h0M335.3 849.7h0M328.8 875.3h0M314.4 817.9h0M340.9 771.2h0M264.5 752.5h0M292.1 791.2h0M350.1 789.3h0M303.1 796.2h0M347 810.6h0M274 787.5h0M301.1 768.5h0M308.9 866.2h0M299.3 781.3h0M305.4 802.1h0M301.1 822.4h0M332.6 796.4h0M326.7 785.4h0M286.3 769h0M351.2 795.7h0M296.2 797.9h0M308.5 816.3h0M253.4 770.1h0M240.3 776.5h0M253.2 766.3h0M231.5 780.6h0M307.8 825.4h0M316.6 784.3h0M308.1 859.3h0M338.9 769.4h0M325.4 793h0M344.4 816.7h0M332.5 838h0M334.6 798.6h0M290.7 776.8h0M344.3 784.2h0M346.8 802.6h0M334.5 827.5h0M283.2 796.3h0M329.7 803.3h0M316.3 852.4h0M279.9 792.3h0M309.9 819.1h0M323.6 830.4h0M354.3 827.1h0M359.4 825.3h0M331.8 853.9h0M255.9 789h0M357.9 818.5h0M258.5 756.3h0M351.5 815.9h0M252.1 779.3h0M310.6 765.6h0M305.3 790.4h0M309.7 780.8h0M300.7 777.5h0M262.9 769.1h0M255.8 757.3h0M284.4 798.6h0M334 786.7h0M318.2 814.2h0M327.1 873.3h0M312.4 763.9h0M347.1 823.2h0M227.4 800.9h0M260.5 765.4h0M267.1 779h0M321.7 768.6h0M307.6 835.3h0M313 825.5h0M285.7 796.4h0M342.8 793.1h0M289.6 743.9h0M319.8 784.4h0M249.8 757.7h0M271.7 788.4h0M289.7 770.9h0M355.3 819.1h0M269.2 767.2h0M275.8 755.8h0M310.6 879.3h0M322.2 858.8h0M291.8 806.9h0M352.1 824.1h0M313.3 798.3h0M316.1 821.8h0M309.8 790h0M313.7 758.9h0M297.1 752.4h0M291.8 757.1h0M322.2 780.2h0M261 748.6h0M233.5 787.3h0M298.3 770.5h0M317.1 872.3h0M247.1 769.1h0M325.6 832h0M302.8 774.1h0M265.8 775.2h0M339.1 843.9h0M273.6 763h0M236.6 801.3h0M325.3 859.1h0M320.5 827.2h0M351.2 830h0M326.4 800.3h0M294.6 775.3h0M303.9 749.9h0M279.7 755.1h0M315.3 771.4h0M310.2 850.7h0M332.8 790.1h0M285.8 764.1h0M314.9 776.6h0M345.4 820.7h0M298 791.6h0M278.9 765.7h0M337.7 834.5h0M315.9 755.5h0M255.6 777.9h0M297.2 762.5h0M240.3 789.3h0M330.8 832.5h0M320.3 812.6h0M287.9 778.9h0M296.5 800.7h0M230.6 785.4h0M279.6 787.4h0M339.9 810.4h0M331.6 876.6h0M306.4 812.5h0M308 778.6h0M343.6 840.6h0M341.4 786.5h0M282.2 768.8h0M320.8 830h0M334.3 768.7h0M276.9 752.6h0M283.3 849h0M276.5 812.9h0M296.7 825h0M296.7 854.4h0M267.3 864.6h0M293.4 887h0M286.1 861.1h0M308.6 887h0M276.2 854.1h0M277.7 846.9h0M268.4 850.1h0M286.5 816.8h0M292.4 862.8h0M301.9 888.1h0M282.6 830.2h0M289.9 856.6h0M276 869.9h0M296.2 830.9h0M263.3 816.4h0M295.5 880.9h0M301.8 857.3h0M306.5 847.9h0M282.6 865.8h0M296.2 870.7h0M290.5 835h0M291.7 876.4h0M273.8 840.5h0M307.6 839.8h0M308.1 864.9h0M288.1 868.6h0M269 877h0M298.2 841.1h0M266.2 841.8h0M290.8 828.3h0M271.5 825.2h0M293.1 845.9h0M272.2 831.6h0M274.1 807.4h0M267.2 805.8h0M302.6 881.2h0M285.3 840.8h0M292.1 812.2h0M282.6 855.2h0M270.7 884.3h0M302.6 868.3h0M271.7 860.4h0M303 832.4h0M281.1 881.6h0M182.8 794.6h0M377.3 867.6h0M381.8 877.1h0M320.4 921.1h0M310.6 946.7h0M214.4 861h0M188.1 830.7h0M223.6 801.2h0" stroke="#0b70b8" stroke-width="4.7" stroke-linecap="round" fill="none"/>
<path d="M374.1 877.3h0M332.2 916.3h0M350.7 913.4h0M328.6 964.9h0M346.2 914.8h0M295.8 926.3h0M340 918.1h0M346.2 935.8h0M375 888.7h0M334 912.7h0M339.3 906.7h0M358.1 871.6h0M331.6 951.4h0M366.9 920.2h0M285 921.2h0M369.2 899.1h0M280.8 903.4h0M335.3 920.8h0M361.6 914.1h0M360.7 933.8h0M281.8 921.3h0M348.6 895.6h0M284.3 925.8h0M375.5 894.4h0M290.2 894.8h0M344.7 876.9h0M327.5 967.6h0M305.5 952.8h0M332 966.4h0M376.8 903.3h0M365.9 888.9h0M326.7 944h0M299.5 957.4h0M315.4 944.7h0M364.1 872h0M294.4 911.1h0M310.3 959h0M363.8 929.5h0M319.6 953.4h0M384.5 918h0M383.4 944h0M387.9 915.6h0M320.9 962.8h0M363.4 957.4h0M344.3 882.9h0M314.5 951.3h0M295.9 931.6h0M354.3 970.9h0M286.8 917.6h0M300.5 895.1h0M376.1 873.9h0M304.6 920.5h0M384 894.2h0M325.2 980.8h0M365.8 900.7h0M366.7 908.9h0M326.8 923.9h0M384.7 940.3h0M295.7 923.9h0M300.4 944.8h0M342.3 890.6h0M327.4 979.8h0M292.2 944.4h0M381.8 935.4h0M335.6 985.8h0M367.7 930.6h0M371.5 922.6h0M317.1 950.2h0M322 943.3h0M365.4 945.5h0M349.3 905.6h0M361.7 875.3h0M297.4 955.4h0M344.8 923.6h0M311 929.7h0M373.5 918h0M370.2 948.2h0M328.9 949.6h0M378.2 876.6h0M352.1 921.1h0M357.7 874h0M311 965.6h0M344.6 968.9h0M287.1 924.7h0M369.3 886.5h0M369.9 914.9h0M355 900.8h0M368.6 961.5h0M344.9 902.3h0M323.8 952.2h0M347.2 963.4h0M379.7 913.5h0M356.6 884.5h0M350.4 928.2h0M323.4 985.6h0M367.3 904h0M288.5 929.2h0M285.9 906h0M300.5 962.4h0M352.7 894.2h0M326.1 902.2h0M367.7 923h0M360.1 937.8h0M377.7 907.9h0M300.7 921h0M332 979h0M328.5 909.5h0M315.3 978.4h0M350.2 940.4h0M376.2 923.6h0M303.8 901.2h0M343.2 979.2h0M330.3 962.1h0M303 933.1h0M309.6 945.4h0M310.7 953.1h0M277.4 918.8h0M322.6 965.1h0M318.5 920.1h0M349.6 974.8h0M325 893.2h0M386.7 930.9h0M368.7 964.8h0M361.8 863.6h0M317.9 941.5h0M288 922.1h0M385.9 936.1h0M362.9 887.1h0M355.2 894.3h0M332.2 928.7h0M355 929.6h0M309.2 941.7h0M381 895.8h0M333.4 976.8h0M336.3 942.6h0M309.3 989.9h0M315.6 917.3h0M351 896.3h0M313.2 937.9h0M357.2 972.3h0M327.3 898h0M365.8 862.5h0M358.9 895.4h0M356.7 948h0M279.4 899.7h0M315.3 907.5h0M310.3 983.1h0M322.5 925h0M291.8 919.2h0M330.7 896h0M341.6 981.2h0M327 951.2h0M291.1 932.1h0M311.1 911.5h0M350.6 936.6h0M335.2 882.8h0M316.2 991h0M360.8 917.3h0M308.8 967.3h0M364.2 868.2h0M323.1 982.3h0M323.7 932.8h0M358.8 960.3h0M319.8 932.5h0M373.5 898h0M305.7 988h0M356.1 889.8h0M362.9 936.2h0M341.6 975.9h0M349 921.7h0M335.3 935.4h0M293.9 893.6h0M335.5 961.8h0M355.8 897.6h0M355.8 951.1h0M336 907.5h0M332 903h0M347.3 970.8h0M336.9 929.5h0M339.9 960.4h0M384 922.2h0M311.5 906.1h0M345.4 961.4h0M315.1 954h0M300.9 974.3h0M367.5 866.7h0M366.4 960.6h0M368.6 926.9h0M353.7 960.2h0M296.4 904.5h0M333.9 956.6h0M297.2 894.9h0M381.5 930.2h0M299.9 925.6h0M358.5 906.6h0M344.4 916.7h0M358.1 932.9h0M345.7 899.1h0M390.3 917.3h0M340.2 896.1h0M376 882.1h0M326.5 946.9h0M322 937.6h0M306.9 965h0M331 939.3h0M307.6 962.1h0M333.5 942.8h0M319.9 949.8h0M292.6 941.9h0M363.7 962h0M368.5 883.9h0M353 923.7h0M305.6 903.4h0M376.5 931.5h0M320 899.4h0M376.6 897.8h0M358.3 923.9h0M355.8 935h0M331 974h0M334.6 910h0M373.8 904.2h0M380.2 903.1h0M316.9 904.5h0M352.9 890.2h0M310.7 902.6h0M276.9 901h0M319.3 909.9h0M342.4 967.6h0M314.4 925.4h0M374.2 930h0M392.7 911.5h0M285.8 902.5h0M368.9 946h0M325.9 930.6h0M298.2 911.6h0M348.6 918.6h0M365.1 880.9h0M376.8 935.7h0M362.5 920.5h0M326 934.2h0M310.1 916.1h0M312.3 970.7h0M323.4 969.8h0M345.8 912h0M303.6 970.2h0M329.6 933.3h0M388.8 923.1h0M322.8 906.2h0M336.4 970.5h0M304.4 978.2h0M370.2 901.5h0M343.8 909.8h0M326.6 891.1h0M319 987h0M312.1 914.5h0M317.6 954.8h0M374.3 947.4h0M340.1 898.7h0M388.2 906.1h0M370.9 872.8h0M320.6 981.6h0M321.1 991.1h0M372.1 888.5h0M323.5 972.2h0M316.3 939.1h0M371 957.9h0M349.3 965.2h0M290.7 911.3h0M349 899.3h0M373 961.4h0M375 950.7h0M331.3 957.5h0M357.7 879.3h0M322.1 915.2h0M326.1 983.1h0M367.3 895.8h0M376.1 938.9h0M354.8 913.8h0M290.3 900.6h0M359.1 953.8h0M361.8 891.4h0M308.1 977.1h0M305.8 899.2h0M380.4 899.6h0M352.5 966.2h0M332.1 924.1h0M342.2 913.5h0M355.2 910.4h0M352.7 918.7h0M313.1 957h0M342 885.2h0M311.3 950.6h0M373.2 926.8h0M324.7 960.5h0M370.7 940.8h0M326 914.8h0M355.9 877.4h0M336.7 896.1h0M287.3 914.7h0M353 880.8h0M309.8 937.1h0M348.5 892.6h0M363.1 939.4h0M376.4 884.9h0M351.4 945.7h0M310.2 920h0M342.1 971.2h0M349.3 954.5h0M344.6 940.4h0M332.4 954.6h0M337.2 914.3h0M385.9 903.9h0M361.6 965.9h0M363.4 948.1h0M379 905.3h0M282.1 915.5h0M356.4 927.2h0M353.9 953.6h0M328.7 972.2h0M303.6 967.7h0M364 905.8h0M353.4 876.9h0M323.6 912.5h0M368.8 906h0M311.9 991.6h0M359.1 947.2h0M337.1 983.1h0M357.6 917.6h0M298.8 931.2h0M367.2 911.9h0M297.9 897.6h0M360.5 958.2h0M340 928h0M364.3 878.1h0M344.8 889.3h0M366.3 956.3h0M281.6 907.5h0M289.3 897.1h0M380.6 942.7h0M337.8 938.2h0M336.2 890.2h0M372.1 905.9h0M372.8 867.3h0M318.3 928.7h0M344.3 927.7h0M288.9 935h0M318.6 992.9h0M310.5 923.1h0M368.4 875.6h0M300.1 969.1h0M364.9 925.7h0M329.2 918.1h0M327.8 975.6h0M302.1 910.6h0M368.9 953.7h0M340.9 882.6h0M297 921.7h0M379.8 917.3h0M285.1 898.4h0M323.5 900.8h0M319.1 970.3h0M333 959.9h0M379.6 893.2h0M349.9 884.1h0M319.6 904.5h0M325.8 940.3h0M388.1 900h0M355.4 903.3h0M305.5 959.9h0M365.6 952.3h0M307.9 983.2h0M359.7 888.3h0M333.1 906.1h0M321.5 976.1h0M342 924.2h0M340 947.1h0M341.6 950.2h0M305.3 934.7h0M301.6 928.2h0M328.4 985.5h0M307 949.9h0M329.9 905.9h0M324.3 918h0M390.5 914.5h0M294 898.9h0M314.1 965.7h0M309.5 908.7h0M302.2 938.8h0M320.1 965.8h0M314.8 985.5h0M297.5 935.2h0M324.5 956.1h0M369.1 864.3h0M311.4 978.2h0M344.1 949.7h0M281.3 926h0M301.8 942.2h0M302.9 957.4h0M362.3 884.3h0M314.8 932.6h0M347.6 882.1h0M338 965h0M379.6 884.9h0M356.9 954.8h0M333.2 893h0M376.9 910.7h0M327.2 904.5h0M343.8 920.2h0M330 912.5h0M371.3 950.4h0M310 969.6h0M301.4 959.5h0M360.2 919.7h0M319 935.7h0M338.3 901h0M346.6 975.7h0M320.9 929.8h0M286.9 932.4h0M325.8 954h0M334.1 950.6h0M321.9 967.5h0M378.8 919.5h0M342.9 957.8h0M347.2 967.9h0M328.8 981.8h0M302.9 976.2h0M307 942.7h0M313.2 918.3h0M304.5 925.9h0M319.7 959h0M383.3 901.2h0M363.3 922.9h0M303.3 987.2h0M292.7 905.4h0M354.6 885.8h0M370.8 944.5h0M384.7 907.7h0M299.9 905.2h0M300.4 897.6h0M350.5 888.1h0M362.2 901.4h0M375 901.7h0M303.3 930.5h0M304 950.9h0M297.3 943.6h0M360.5 899h0M308.4 917.9h0M389.9 911h0M294.4 916.9h0M364.7 969.2h0M368.6 858.7h0M319.8 973.9h0M332.8 983.8h0M318.8 923.6h0M335 923.5h0M349.4 949.4h0M357.2 945.1h0M383.3 910.9h0M360.8 868.3h0M352.1 957.2h0M294.8 907.7h0M305.3 980.6h0M294.2 896.5h0M331.2 948.9h0M286 928.1h0M318.5 978.9h0M316.7 901.6h0M347.9 947h0M276.5 905.7h0M361.6 896.6h0M365.4 886.4h0M345.8 944.9h0M361.8 908.7h0M350.7 933.6h0M338 973h0M345.9 886.7h0M333.8 918.9h0M372.7 885.1h0M364.4 910h0M375.3 954h0M303.1 923.5h0M351.9 907.8h0M356.6 965.8h0M352.6 963.4h0M377.1 945.8h0M307.2 946.2h0M353.8 926.4h0M342.4 893.8h0M351 915.9h0M368.8 881.5h0M359.2 965.1h0M295.9 938.7h0M293.6 933.7h0M317.6 931.2h0M386.7 927.7h0M338.4 885h0M304.7 914.7h0M297.4 907.4h0M352.5 969.3h0M377.6 887.2h0M275.7 908.1h0M389.4 908.3h0M295.4 956.6h0M339.9 939.9h0M386.8 909.8h0M315.5 958.4h0M345 973.3h0M310.7 974.5h0M324.8 926.2h0M336.6 887.1h0M324.7 908.3h0M382.9 890.5h0M329.4 941.3h0M347.5 901.4h0M380.1 881.7h0M293 946.7h0M317.1 976.2h0M279.3 910.5h0M374.5 909.7h0M292.6 926.6h0M304.1 961.9h0M322.8 898.3h0M314.4 922.2h0M335 944.9h0M307.8 904.5h0M317.4 963.6h0M382.7 946.4h0M339.3 903.3h0M339.8 890.9h0M385 925.6h0M358.5 928.5h0M367.1 870.7h0M352.1 976.2h0M321.3 939.9h0M337 956.4h0M372.4 870.2h0M309.7 926.6h0M380.7 939.5h0M295.6 929.3h0M358.9 866.5h0M371.9 909.1h0M363.3 953.1h0M316 973.2h0M372.7 863.7h0M358.7 914.5h0M296.3 959h0M308 930.8h0M364.2 898.7h0M340 944.2h0M341.4 965.1h0M286.1 912.2h0M329.4 978.2h0M376 915.5h0M366.1 891.6h0M330.7 891.3h0M289.8 906.6h0M378.4 950.3h0M283.2 909.6h0M329.8 944.7h0M381.3 920.2h0M365.6 883.5h0M313.5 899.8h0M317.4 915.4h0M377.9 928.5h0M367.4 938.5h0M289.4 918h0M345.1 931h0M327.2 936.3h0M371.8 953.2h0M305.9 971.8h0M335.9 916.4h0M348.9 944.2h0M287.2 895h0M306.3 922.5h0M344.1 896.5h0M341.1 909.2h0M313.3 908.9h0M308.2 972.2h0M322.3 979.7h0M381.5 906.9h0M283.4 901.5h0M371.6 881.9h0M284.5 915.6h0M324.6 896.6h0M337.3 924.2h0M359.4 910.1h0M298.9 964.5h0M345.2 957.3h0M355.1 973.8h0M371.6 934.3h0M328.2 957.5h0M333.6 889.7h0M379.8 910h0M336.2 903.4h0M355.8 920.4h0M308.1 974.6h0M324.6 989.5h0M310.3 898.9h0M311.7 985.1h0M351.6 902h0M333.3 886.9h0M376.4 941.2h0M307.4 991.6h0M343.6 942.9h0M317.2 912.3h0M333.4 971h0M314.2 961.6h0M370.8 929.8h0M297.5 916.3h0M368.6 934.4h0M359.9 968.2h0M303.5 896.4h0M316.9 982.4h0M300.6 954.5h0M337 892.9h0M358.2 941.9h0M371.3 875.6h0M315 970.5h0M320.6 955.6h0M385.8 920h0M342.4 934.5h0M326.7 920.4h0M307.3 940.3h0M372.1 913.4h0M322.9 946h0M348.3 878.1h0M342.7 931.7h0M349.6 962.7h0M318.4 945.7h0M319.5 916.6h0M305.7 975.4h0M295.6 913.7h0M305.7 908.5h0M364.1 895.7h0M353.1 872h0M329.6 900h0M358.1 962.8h0M334.7 978.9h0M364.9 913.4h0M302 907.1h0M266.6 830.7h0M276.4 871h0M275.6 888.1h0M360.7 839.4h0M343.6 852.6h0M275 944.8h0M337 859.2h0" stroke="#dde323" stroke-width="4.7" stroke-linecap="round" fill="none"/>
<path d="M154.7 816.5h0M169.6 806.4h0M167.5 817.7h0M185.1 824.8h0M159.7 808.3h0M210.4 801.2h0M211.7 796.6h0M169.8 830.3h0M174.4 824.1h0M181.4 815.5h0M163.4 814.7h0M196.7 806.1h0M156.7 807.8h0M166.3 822.9h0M167.9 803.8h0M206.1 800.9h0M202 806.8h0M178.7 823.8h0M195.9 812.7h0M160.6 813.2h0M176.6 815.7h0M171.3 816.5h0M170.4 823.3h0M155.3 820.3h0M203 802.6h0M155.8 804.9h0M173.8 831.3h0M170.2 826.2h0M168.7 809.4h0M160.6 820.6h0M159.9 826h0M153.3 813.2h0M166 811.7h0M172 812.4h0M182.9 819.9h0M175.9 821.4h0M165.4 803h0M208.4 804.6h0M175.1 833.4h0M165.8 815h0M164 810.1h0M175 812.1h0M192.9 811.5h0M174.2 814.6h0M198.4 812.1h0M156.5 823h0M183.5 828.4h0M163 806h0M188.9 818.8h0M180.1 827.5h0M154.3 810.2h0M168.6 820.3h0M180.5 833.5h0M176.1 829.5h0M177.8 831.4h0M153.3 805h0M160.3 816.6h0M186.4 817.9h0M202.6 809.3h0M183.7 814.5h0M163.9 825h0M157 812.8h0M247.4 825.9h0M252.4 853.6h0M243 877.9h0M248.3 850.6h0M236.4 858.8h0M246.1 871.9h0M245.5 867.9h0M249.5 863.2h0M224.4 854.5h0M243.2 861h0M242.7 833.2h0M242.6 841.6h0M242.8 869.8h0M250.7 849.2h0M223.1 860.1h0M226.9 861.2h0M238.5 848.6h0M229.7 859.3h0M233.5 862.4h0M255.4 854.4h0M246.1 856.7h0M234.2 848h0M246.4 880.5h0M255.5 857h0M236.5 868.1h0M246.3 830.2h0M242.1 857.4h0M226.7 858.2h0M249.2 828h0M236.6 834.9h0M245.1 836h0M243.3 850h0M248.9 837.4h0M243.8 844.4h0M242.2 830.1h0M246.8 839.8h0M238.4 829.9h0M236.3 851.4h0M256.4 851.2h0M235.5 837.3h0M237.1 871.6h0M238.9 855.8h0M228.3 850.2h0M232.7 858.5h0M248.8 834.4h0M243.1 827.6h0M237.5 841h0M236.2 855.2h0M249.3 853.2h0M240.6 876.7h0M245.4 874.7h0M228.4 854.3h0M241.9 866.5h0M244.2 838.1h0M227.8 863.5h0M251 858.2h0M238.3 864.6h0M236.4 878.1h0M250.8 833.2h0M251.3 845.6h0M231.3 849.3h0M241.7 880.1h0M243.9 864.1h0M240.4 841.4h0M233.9 866.6h0M240.6 860.6h0M237.9 845.1h0M236.4 847h0M244.5 840.5h0M258.2 852.9h0M211.8 851.2h0M265.8 875h0M224.4 884.2h0M271.9 896.1h0M130.1 844.7h0M139.3 867.6h0M219.2 1009.9h0M310.6 946.7h0" stroke="#0b6b3b" stroke-width="4.7" stroke-linecap="round" fill="none"/>
<path d="M170.9 999.4h0M172.3 843.9h0" stroke="#a0219f" stroke-width="4.7" stroke-linecap="round" fill="none"/>
<path d="M290.9 919.8h0M280.3 926.4h0M304 979.1h0M302.7 969.9h0" stroke="#cb2229" stroke-width="4.7" stroke-linecap="round" fill="none"/>
<path d="M734 808.5h0M661.5 859.7h0M612.3 863h0M551.9 871.3h0M749.1 798.4h0M554.8 883.5h0M625.5 860.2h0M591 880h0M573.1 879.1h0M558.6 901.1h0M562.5 897.8h0M581.5 889.9h0M624.9 874.3h0M602 870.6h0M621.8 867.5h0M656.3 854.8h0M584.9 888.9h0M686.2 842.7h0M640.7 868.2h0M595.6 872.2h0M574.5 888.4h0M709.9 823.2h0M674.6 848.7h0M705.5 829.3h0M638 859.9h0M724.1 817.7h0M564.6 888.9h0M609.3 882.7h0M736 811.8h0M648.3 857h0M597.8 887.1h0M556.4 876.3h0M722.1 820.3h0M729.4 810.8h0M673 850.3h0M602.8 879.4h0M676.9 843.6h0M557.7 898.7h0M610.2 870.9h0M682.2 843.8h0M563.5 882.6h0M741.1 801.9h0M558.8 904h0M632.8 855h0M725 819.7h0M649.9 859.5h0M627.6 865.4h0M718.9 820.8h0M569 881.8h0M604.5 871.1h0M655 861.1h0M696.3 837.5h0M637.5 854.7h0M608.1 863.2h0M597.7 873.4h0M627.2 871.9h0M743 803.9h0M599.4 870h0M639.4 861.9h0M556 881.5h0M581.2 882.8h0M741.4 799.4h0M605.3 879.7h0M552.8 881.7h0M626.3 854.9h0M740.3 804.5h0M607.1 883.1h0M630 865.8h0M644.6 868.1h0M637.5 865h0M651.4 855.5h0M667.7 851.5h0M608.8 878.7h0M584.3 873.6h0M561.8 876h0M576 880.9h0M619.5 861.7h0M659.8 849.1h0M641.4 872.2h0M721.8 812.3h0M555.3 894.3h0M612.1 877h0M595.7 869.9h0M571.1 891.8h0M617.8 872.2h0M734.9 803.4h0M608.9 868.9h0M616 865.4h0M573.8 894.4h0M603 864.8h0M639.9 864.1h0M558.4 886.9h0M652.5 860.5h0M709.2 830h0M619.9 863.9h0M629 859.6h0M711.6 828.7h0M645.7 856.5h0M570.5 878.4h0M646.6 862.7h0M641.7 858.2h0M622.5 873.2h0M618.9 881.5h0M651.3 850.8h0M561.1 902.6h0M610.7 865.9h0M743.2 800.7h0M613.6 882.4h0M610.3 875.2h0M560.5 894.8h0M557.4 893.8h0M596 867h0M579.3 888.5h0M700.7 831.7h0M577.7 877.2h0M689.6 838.9h0M622.4 879.4h0M605.1 877.1h0M669.2 854.5h0M574.3 892.2h0M732.7 811.8h0M707.9 825.6h0M663.1 862.4h0M613.6 869.8h0M580.3 878.7h0M660.8 851.2h0M633.7 865.7h0M590.8 882.2h0M588.2 885.2h0M727.9 815h0M620.1 876.7h0M695.1 835.4h0M582 886.9h0M555.7 904.2h0M648.5 864.3h0M579.3 884.1h0M658.7 857.5h0M680.3 849.3h0M600.1 882.2h0M643 855h0M609.7 861.2h0M567.7 897.2h0M579.9 875.7h0M575.7 895.3h0M592.4 873.6h0M558.9 896.7h0M642.1 861.2h0M588.4 879.7h0M602.8 875.5h0M668 848.6h0M614.5 877.8h0M568.7 892.5h0M721 816.9h0M576.4 892.9h0M628.7 878.9h0M746.6 800.2h0M559.1 884.1h0M744.2 805.7h0M557.4 889.1h0M582.3 879.4h0M567.9 888h0M662.1 853.5h0M629.5 876.9h0M674.1 844.9h0M571.6 882.9h0M726.5 806.7h0M686.7 839.7h0M632 862.8h0M591.5 871.3h0M712.8 822h0M618.4 869.6h0M618.6 857.5h0M619.9 873.6h0M646.6 853.5h0M605.6 868.4h0M666.4 855.3h0M655.1 864.7h0M634.8 854.1h0M574 886h0M554.2 897.3h0M566.8 890.5h0M562.1 887.5h0M674.9 851.7h0M737.2 806.9h0M706.4 831.3h0M594 881.5h0M583.9 883.8h0M593.9 876.3h0M624.3 863.8h0M573.8 876.6h0M634.4 875.7h0M626.4 870h0M565.5 897.3h0M571.3 887h0M551.9 869.1h0M585 880.1h0M630.5 857.7h0M589.9 887.4h0M555.3 899.2h0M553.7 873.9h0M625.1 878.7h0M666 847h0M659.3 861.1h0M622.4 865.1h0M598.7 883.7h0M670.6 845.5h0M671.5 856.5h0M732.8 814h0M636.5 871.8h0M602.9 868.5h0M741.6 807.6h0M565.9 885.5h0M633.3 857.1h0M561 878.7h0M727.6 817.4h0M702.4 833.6h0M717.5 816.6h0M726 810.1h0M568.2 894.7h0M704.5 832.4h0M624.1 870.2h0M563.5 891h0M715.1 820.9h0M702.8 830.9h0M623.1 860.6h0M600.2 866.9h0M654.8 852.2h0M559.7 876.7h0M639.1 853.2h0M715 824.9h0M595.2 878.8h0M657.2 851.6h0M663.6 858.3h0M611.5 883.2h0M638.1 868.4h0M566 894.6h0M746.2 804.1h0M699.3 835.2h0M581 892.8h0M586.9 887.5h0M615.6 876h0M635.6 858.9h0M555.6 887h0M666.2 859.8h0M739.1 799.6h0M627.4 876.5h0M631.9 874.6h0M614.8 873.7h0M607.7 874.6h0M726.5 812.5h0M614.4 812.5h0M633.4 823.6h0M623.6 826.2h0M606.5 828.8h0M589.4 840.7h0M590.7 849.9h0M627.6 843.9h0M642.9 845.2h0M635.5 847.3h0M623.6 851.2h0M655.3 838.6h0M674.5 810.9h0M696.1 805.9h0M693.5 820.4h0M678.2 832.8h0M683 836.7h0M711.4 808.3h0M719.9 808.3h0M726.4 809.1h0M731.7 801.2h0M738.3 801.7h0M748.8 799.8h0M754.9 796.4h0M782.3 764.3h0M601.2 857.8h0M603.4 864.4h0M563 874.4h0M577.5 873.6h0M570.9 878.9h0M508.2 842.8h0M508.2 857h0M508.2 872.3h0M508.2 887.4h0M508.2 901.3h0M544.5 869.7h0M542.8 871h0M539.1 872.9h0M538.6 874.2h0M540.7 876h0M543.4 877.3h0M541 879.2h0M544.7 880.5h0M538.7 882.3h0M542.6 883.7h0M541.7 885.5h0M542.1 886.8h0M542.1 888.7h0M540.1 890h0M540.4 891.8h0M539.6 893.2h0M541.1 895h0M541.8 896.3h0M539.3 898.2h0M544.3 899.5h0M542.4 901.3h0M539 902.6h0M540.3 904.5h0M539.2 905.8h0M542.6 907.6h0M540.9 909h0M553.7 864.4h0M553.3 867.8h0M552.4 871.3h0M555.8 874.7h0M552.2 878.1h0M552.6 881.6h0M554.5 885h0M556.1 888.4h0M551.9 891.8h0M554.3 895.3h0M555.1 898.7h0M555 902.1h0M555.3 905.5h0" stroke="#c0311a" stroke-width="7.2" stroke-linecap="round" fill="none"/>
<path d="M700.3 873.9h0M707.7 861.8h0M663.4 910.5h0M668.8 902.3h0M673.8 921.8h0M659.3 913.4h0M704.6 877.8h0M661.5 926.3h0M707.4 879.3h0M709.2 881.6h0M699 890h0M708.8 871.2h0M695.2 876.4h0M688.2 906.9h0M697.2 878h0M718 869.4h0M677.1 900.2h0M691.6 898.7h0M667.7 912.3h0M701 887.5h0M660.1 920.6h0M688.2 885.6h0M706.5 884.2h0M700.9 876.2h0M695.8 887.3h0M654.8 934.9h0M692.7 879.3h0M715.2 873.8h0M671 921.6h0M689.2 889.3h0M701.7 879.7h0M691.1 902.6h0M712 876.3h0M718.2 864.3h0M727.2 854.9h0M725.9 861.5h0M683 908.3h0M710.2 872.9h0M667.7 922.5h0M677.8 892h0M716 862.8h0M653.2 929.9h0M668.6 918h0M674.9 913.7h0M661.5 912.1h0M697.6 895.1h0M693.1 885.3h0M693.8 898.3h0M692 881.5h0M661.1 936.8h0M673 917.9h0M668.3 925.4h0M671.7 910.5h0M671.5 906.9h0M716.8 866.4h0M658 922.9h0M651.7 936.2h0M691.1 896.4h0M673.8 911.1h0M669.8 915.1h0M691.9 890.6h0M722 855.3h0M701.6 881.8h0M717.8 861.6h0M664.4 918.7h0M676.2 898.1h0M682.5 912.5h0M669.8 905.2h0M690.8 887.2h0M714.4 861.1h0M719 855.4h0M706.1 875.5h0M698.1 875.6h0M714.8 867.2h0M707.6 865.9h0M695.5 879.8h0M708.6 875.2h0M666.1 906.7h0M716.4 871h0M685.3 899h0M702.5 885.9h0M698.3 880.5h0M687.1 893.5h0M711.6 862.2h0M694.5 891h0M657.7 915.6h0M713.3 869.6h0M672.9 899.1h0M674.5 908.1h0M668.5 908.6h0M664.7 922.4h0M678.8 898.7h0M678.1 916.7h0M706.8 870.4h0M720.5 866.6h0M721.3 860.5h0M675.7 895.2h0M699 882.9h0M674.5 900.8h0M704.3 873.3h0M661.4 930.5h0M710.3 878.2h0M663.6 931.7h0M705.5 880.1h0M702.9 868.3h0M672.3 901.8h0M684.2 886.5h0M666.1 916.4h0M676.7 902.3h0M721 864.1h0M676.8 907.6h0M711.4 864.8h0M681 894.6h0M687.7 898.7h0M661.6 922.9h0M688.6 880.9h0M659.1 931.4h0M676.9 914.6h0M702.6 870.6h0M683.1 892.6h0M675.2 916.2h0M683.7 900.9h0M698.2 886.8h0M657.1 926.6h0M655.5 920.1h0M703 888.7h0M663.8 924.7h0M704.6 885.1h0M667.2 914.5h0M688 902.3h0M733 863.1h0M720.4 876.3h0M730.9 887.6h0M744.9 890h0M738.3 898.7h0M696.7 894.7h0M693.5 915.8h0M681.6 928.2h0M664.5 928.2h0M655.3 942.2h0M650 955.9h0M664.5 954.6h0M672.4 956.1h0M648.7 996.7h0M652.6 996.7h0M660.5 996.7h0M669.8 996.7h0M676.4 996.7h0M684.3 996.7h0M700.9 996.7h0M743.6 996.7h0M709.3 880.2h0M700.1 885.5h0" stroke="#2f72c0" stroke-width="7.2" stroke-linecap="round" fill="none"/>
<polygon points="554.3,909.8 567,899.2 590.7,888.7 627.6,880.8 664.5,862.3 690.9,841.2 717.2,825.4 743.6,807 764.7,791.1 773.1,787.2 772,799.1 767.3,813.8 743.6,833.3 730.4,846.5 709.3,859.7 685.6,883.4 664.5,904.5 651.3,930.8 646.6,943 554.3,943 553.8,925.6" fill="#7f7f7f" stroke="#7f7f7f" stroke-width="7" stroke-linejoin="round"/>
<path d="M568.3 869.7h0M778.6 792.7h0M508.2 955.9h0M508.2 996.7h0M508.2 882.9h0M592 888.1h0M580.2 896.6h0M569.6 898.7h0M767.8 813.8h0M751.5 820.9h0M740.9 831.5h0M508.5 896.1h0M507.8 898.4h0M507.9 900.8h0M508.6 903.2h0M508.3 905.5h0M508.4 907.9h0M508 910.3h0M507.9 912.7h0M508.5 915h0M508.5 917.4h0M508.5 919.8h0M507.8 922.1h0M508.6 924.5h0M508.1 926.9h0M508.4 929.3h0M508.4 931.6h0M508.4 934h0M508.2 936.4h0M507.9 938.8h0M508.5 941.1h0M507.7 943.5h0M539.6 910.5h0M544.1 910.5h0M539.3 912.9h0M544.3 912.9h0M539.6 915.3h0M544.5 915.3h0M539 917.7h0M544.8 917.7h0M539.6 920h0M544.1 920h0M539.8 922.4h0M543.9 922.4h0M539.3 924.8h0M544.7 924.8h0M539 927.2h0M544.7 927.2h0M539.8 929.5h0M544.3 929.5h0M539.6 931.9h0M544.5 931.9h0M539.6 934.3h0M544.5 934.3h0M539.1 936.6h0M544.7 936.6h0M538.9 939h0M544.8 939h0M539.7 941.4h0M544.2 941.4h0M539.1 943.8h0M544.2 943.8h0M538.5 955.6h0M538.5 996.5h0M541.7 955.9h0M541.7 996.8h0M544.8 956.2h0M544.8 996.8h0M552.5 955.9h0M552.5 996.9h0M554.9 955.8h0M554.9 997h0M557.2 956.4h0M557.2 996.9h0M559.6 955.6h0M559.6 996.7h0M562 955.8h0M562 997.1h0M564.3 955.7h0M564.3 996.6h0M566.7 955.6h0M566.7 996.8h0M569.1 956.3h0M569.1 996.8h0M571.5 955.5h0M571.5 996.9h0M573.8 956.4h0M573.8 997.1h0M576.2 956h0M576.2 996.6h0M578.6 955.6h0M578.6 996.8h0M580.9 955.9h0M580.9 996.8h0M583.3 956.1h0M583.3 996.5h0M585.7 955.8h0M585.7 996.8h0M588.1 956.4h0M588.1 997.1h0M590.4 956h0M590.4 996.7h0M592.8 956h0M592.8 997h0M595.2 956h0M595.2 997h0M597.6 955.8h0M597.6 996.8h0M599.9 956h0M599.9 996.8h0M602.3 955.7h0M602.3 996.8h0M604.7 956.4h0M604.7 997h0M607 955.7h0M607 996.5h0M609.4 956.1h0M609.4 996.6h0M611.8 956.4h0M611.8 996.4h0M614.2 956.3h0M614.2 996.5h0M616.5 956.1h0M616.5 996.9h0M618.9 955.6h0M618.9 996.7h0M621.3 956.4h0M621.3 996.5h0M623.6 955.9h0M623.6 996.6h0M626 956h0M626 996.4h0M628.4 956.1h0M628.4 996.5h0M630.8 956.1h0M630.8 996.5h0M633.1 955.9h0M633.1 997h0M635.5 955.7h0M635.5 997.1h0M637.9 956.1h0M637.9 996.6h0M640.3 955.6h0M640.3 996.6h0M642.6 956.2h0M642.6 996.5h0M645 956h0M645 996.6h0M557.2 909.4h0M560.2 907.2h0M563.1 904.5h0M566.1 897.4h0M567.7 898.1h0M569.8 898.4h0M574.4 895h0M577.7 894.6h0M584.5 892.7h0M584.6 893h0M591.2 891.2h0M590.7 886.5h0M595.7 888h0M597 885.1h0M609.4 887.4h0M609.2 883h0M613.2 885.2h0M614.2 884.4h0M623.1 883.5h0M624.5 879.1h0M628 881.3h0M636.3 877.5h0M634.8 876h0M642 871.8h0M643.9 872.3h0M651 869h0M650.4 867.5h0M656.7 866.5h0M660.1 865.9h0M662.5 862.1h0M668.9 859.2h0M669.8 860.4h0M673.1 855.5h0M671.8 856.4h0M679.1 853.3h0M677.6 851.8h0M683.8 847.1h0M686.4 844.5h0M691.1 842.8h0M691.6 840.6h0M696.9 840.1h0M698 836.8h0M700.3 836.3h0M702.9 833.6h0M707.4 831.5h0M708.8 830.3h0M713.6 828.3h0M721.9 822.6h0M723.6 821.7h0M723.8 821.5h0M725.2 818.5h0M732.1 814.4h0M735.6 813.1h0M737.4 810.7h0M740.5 809.3h0M745.7 807.7h0M748.1 803h0M753.5 801.8h0M752.7 797.5h0M758.3 794.3h0M762.3 795.6h0M763.9 795.6h0M765.4 792.6h0M770.9 790.5h0M770 786.7h0M772.9 788.7h0M773.1 792.8h0M773.6 794.8h0M773.9 802h0M771.4 804.6h0M769.9 807.3h0M766.3 815h0M768.3 814.1h0M760.2 817.4h0M757.8 818.7h0M758.2 822.6h0M755.3 822.7h0M752.8 824.3h0M748.3 832h0M746.1 831.6h0M740.3 834h0M742 835.9h0M735.3 842.7h0M736.8 841.1h0M732.2 844.2h0M727.3 848.2h0M723.6 850.5h0M722 852h0M718.4 852.8h0M716.9 856.2h0M710.9 856.8h0M707.5 859h0M704.7 862.2h0M699.6 867.7h0M699.4 870.3h0M694.7 875.6h0M693.6 872.6h0M690.8 876.8h0M689.5 881.2h0M684.5 886.1h0M680.3 887.8h0M679.7 888.1h0M677.3 892.1h0M674.7 897.7h0M673.9 895.1h0M671 899.1h0M667.6 901.4h0M663.6 906.5h0M663.1 910.8h0M658.8 913h0M655.3 920.2h0M655.7 920.8h0M655.9 923.4h0M654.2 930.3h0M648.6 933.3h0M652 933.5h0M649.7 938.4h0M646.5 942.7h0M648.6 944.5h0M638.6 944.5h0M632.6 941.5h0M633.1 940.7h0M630.3 943.5h0M622.3 942.8h0M620 941.8h0M615.6 943.2h0M611.7 943.7h0M607.2 943.3h0M603.9 943.2h0M596.4 942.3h0M596.2 942.8h0M588 943.3h0M582.2 941.8h0M583.5 943h0M576.7 941.7h0M576.7 944.6h0M571.7 943h0M563.9 943.6h0M557.6 943.4h0M557.5 944.4h0M553.3 942.1h0M555.2 935.6h0M553.9 938.1h0M553.4 929.7h0M553.8 926h0M553.6 923.1h0M554.8 917.2h0M552.8 915.4h0M552.9 911.4h0" stroke="#7f7f7f" stroke-width="7.2" stroke-linecap="round" fill="none"/>
<path d="M646.6 943h0M648.7 938.2h0M651.3 933h0" stroke="#2f72c0" stroke-width="7.2" stroke-linecap="round" fill="none"/>
<polygon points="925.3,747.3 969.7,747.3 969.7,1061" fill="url(#tri)"/>
<text x="918" y="991.6" font-size="37.2" fill="#000" stroke="#000" stroke-width="0.3" text-anchor="start" transform="rotate(-90 918 991.6)" >Differentiation</text>
<g transform="translate(986.5 756.1)"><path d="M0 -20.8C0.4 -21.6 0.7 -24.3 2.2 -25.7C3.7 -27.1 6.1 -27.8 9.1 -29C12.1 -30.2 16.5 -31.1 20.2 -33.2C23.9 -35.3 27.8 -38.8 31.3 -41.5C34.8 -44.2 37.8 -47.4 41 -49.3C44.2 -51.1 47.1 -52.2 50.6 -52.6C54.1 -53 58 -52.6 61.7 -51.7C65.4 -50.8 69.1 -48.9 72.8 -47C76.5 -45.1 80.1 -42.4 83.8 -40.1C87.5 -37.8 91.7 -35.1 94.9 -33.2C98.1 -31.3 101.1 -30.1 103.2 -28.5C105.3 -26.9 106.6 -25.5 107.4 -23.5C108.2 -21.5 108.1 -17.8 108.2 -16.6L108.2 -4 Q108.2 0 104 0 H4.5 Q0 0 0 -4.5 Z" fill="#f1b3b6" stroke="#d9707a" stroke-width="1.4"/>
<ellipse cx="53.4" cy="-33.2" rx="11.7" ry="9.8" fill="#e98a90" stroke="#dd7a82" stroke-width="1.2"/></g>
<g transform="translate(1254.4 756.1) scale(-1 1)"><path d="M0 -20.8C0.4 -21.6 0.7 -24.3 2.2 -25.7C3.7 -27.1 6.1 -27.8 9.1 -29C12.1 -30.2 16.5 -31.1 20.2 -33.2C23.9 -35.3 27.8 -38.8 31.3 -41.5C34.8 -44.2 37.8 -47.4 41 -49.3C44.2 -51.1 47.1 -52.2 50.6 -52.6C54.1 -53 58 -52.6 61.7 -51.7C65.4 -50.8 69.1 -48.9 72.8 -47C76.5 -45.1 80.1 -42.4 83.8 -40.1C87.5 -37.8 91.7 -35.1 94.9 -33.2C98.1 -31.3 101.1 -30.1 103.2 -28.5C105.3 -26.9 106.6 -25.5 107.4 -23.5C108.2 -21.5 108.1 -17.8 108.2 -16.6L108.2 -4 Q108.2 0 104 0 H4.5 Q0 0 0 -4.5 Z" fill="#f1b3b6" stroke="#d9707a" stroke-width="1.4"/>
<ellipse cx="53.4" cy="-33.2" rx="11.7" ry="9.8" fill="#e98a90" stroke="#dd7a82" stroke-width="1.2"/></g>
<g transform="translate(1120.1 758.9)"><path d="M-31.8 -1.4C-31.3 -3.7 -30.1 -10.6 -29 -15.2C-27.9 -19.8 -27 -23 -24.9 -29C-22.8 -35 -20.8 -45.8 -16.6 -51.2C-12.5 -56.7 -5.5 -61.7 0 -61.7C5.5 -61.7 12.2 -56.7 16.6 -51.2C21 -45.8 24.1 -35 26.3 -29C28.5 -23 28.9 -19.8 29.6 -15.2C30.3 -10.6 30.3 -3.7 30.4 -1.4Q0 3 -31.8 -1.4Z" fill="#f2999b" stroke="#c9505e" stroke-width="1.4"/>
<circle cx="0.7" cy="-20" r="13.6" fill="#de6a72" stroke="#cc5862" stroke-width="1.2"/></g>
<text x="1014.5" y="796.5" font-size="33.2" fill="#000" stroke="#000" stroke-width="0.3" text-anchor="start" >HEC formation</text>
<polygon points="1113,985 1124,985 1128,1003 1118,1012 1110,1003" fill="#fff"/>
<path d="M1089.5 1068.5 Q1093 1058 1096 1040 Q1102 1012 1113 1003 Q1122 1000 1130 1012 Q1140 1030 1144 1045 Q1146 1058 1150.5 1068.5 Q1120 1073 1089.5 1068.5 Z" fill="#f2999b" stroke="#c9505e" stroke-width="1.4"/>
<circle cx="1120.6" cy="1051.2" r="13.7" fill="#de6a72" stroke="#cc5862" stroke-width="1.2"/>
<g transform="translate(986.4 1068.6)"><path d="M0 -20.8C0.4 -21.6 0.7 -24.3 2.2 -25.7C3.7 -27.1 6.1 -27.8 9.1 -29C12.1 -30.2 16.5 -31.1 20.2 -33.2C23.9 -35.3 27.8 -38.8 31.3 -41.5C34.8 -44.2 37.8 -47.4 41 -49.3C44.2 -51.1 47.1 -52.2 50.6 -52.6C54.1 -53 58 -52.6 61.7 -51.7C65.4 -50.8 69.1 -48.9 72.8 -47C76.5 -45.1 80.1 -42.4 83.8 -40.1C87.5 -37.8 91.7 -35.1 94.9 -33.2C98.1 -31.3 101.1 -30.1 103.2 -28.5C105.3 -26.9 106.6 -25.5 107.4 -23.5C108.2 -21.5 108.1 -17.8 108.2 -16.6L108.2 -4 Q108.2 0 104 0 H4.5 Q0 0 0 -4.5 Z" fill="#f1b3b6" stroke="#d9707a" stroke-width="1.4"/>
<ellipse cx="53.4" cy="-33.2" rx="11.7" ry="9.8" fill="#e98a90" stroke="#dd7a82" stroke-width="1.2"/></g>
<g transform="translate(1255.4 1068.6) scale(-1 1)"><path d="M0 -20.8C0.4 -21.6 0.7 -24.3 2.2 -25.7C3.7 -27.1 6.1 -27.8 9.1 -29C12.1 -30.2 16.5 -31.1 20.2 -33.2C23.9 -35.3 27.8 -38.8 31.3 -41.5C34.8 -44.2 37.8 -47.4 41 -49.3C44.2 -51.1 47.1 -52.2 50.6 -52.6C54.1 -53 58 -52.6 61.7 -51.7C65.4 -50.8 69.1 -48.9 72.8 -47C76.5 -45.1 80.1 -42.4 83.8 -40.1C87.5 -37.8 91.7 -35.1 94.9 -33.2C98.1 -31.3 101.1 -30.1 103.2 -28.5C105.3 -26.9 106.6 -25.5 107.4 -23.5C108.2 -21.5 108.1 -17.8 108.2 -16.6L108.2 -4 Q108.2 0 104 0 H4.5 Q0 0 0 -4.5 Z" fill="#f1b3b6" stroke="#d9707a" stroke-width="1.4"/>
<ellipse cx="53.4" cy="-33.2" rx="11.7" ry="9.8" fill="#e98a90" stroke="#dd7a82" stroke-width="1.2"/></g>
<circle cx="1146.9" cy="977.3" r="23.5" fill="#ee9598" stroke="#d4636b" stroke-width="1"/>
<circle cx="1146.9" cy="977.3" r="20.7" fill="#de6e73"/>
<circle cx="1089.1" cy="997.4" r="23.5" fill="#ee9598" stroke="#d4636b" stroke-width="1"/>
<circle cx="1089.1" cy="997.4" r="20.7" fill="#de6e73"/>
<circle cx="1145.4" cy="1013.1" r="24.2" fill="#ee9598" stroke="#d4636b" stroke-width="1"/>
<circle cx="1145.4" cy="1013.1" r="21.4" fill="#de6e73"/>
<circle cx="1115.1" cy="958.7" r="23.5" fill="#ee9598" stroke="#d4636b" stroke-width="1"/>
<circle cx="1115.1" cy="958.7" r="20.7" fill="#de6e73"/>
<path d="M1119.4 815.5 A2.75 2.75 0 0 1 1124.9 815.5 V875.5 H1130.8 L1122.1 908.3 L1113.4 875.5 H1119.4 Z" fill="url(#va)"/>
<path d="M1279 779.6 H1331.5 A2.6 2.6 0 0 1 1331.5 784.8 H1279 Z" fill="url(#t1)"/>
<rect x="1275.6" y="762.8" width="6" height="38.4" fill="#0a0a0a"/>
<rect x="1346.9" y="787.4" width="98.7" height="48.6" fill="#c8c8c8"/>
<text x="1351.5" y="822.9" font-size="33.2" fill="#000" stroke="#000" stroke-width="0.3" text-anchor="start" >JUNB</text>
<path d="M1344.4 787.6L1448.8 836M1448.8 787.6L1344.4 836" stroke="#e8404c" stroke-opacity="0.65" stroke-width="3.2"/>
<path d="M1340.2 874.5L1286.4 939.3" stroke="url(#t2)" stroke-width="5.4" stroke-linecap="round"/>
<path d="M1271.6 926.6L1301.2 951.9" stroke="#0a0a0a" stroke-width="5.8"/>
<path d="M1180.5 1018.5 C1190 1000 1196 985 1194.5 968 C1193 945 1180 929 1158 926.2 C1152 925.5 1147 926.5 1143 928" fill="none" stroke="url(#ca)" stroke-width="6.2" stroke-linecap="round"/>
<path d="M1132.5 932.2 L1150 920.3 L1147.5 927.8 L1154 934.5 Z" fill="#151515"/>
<text x="1202.5" y="970" font-size="33" fill="#000" stroke="#000" stroke-width="0.3" text-anchor="start" >EHT</text>
</svg></body></html>
